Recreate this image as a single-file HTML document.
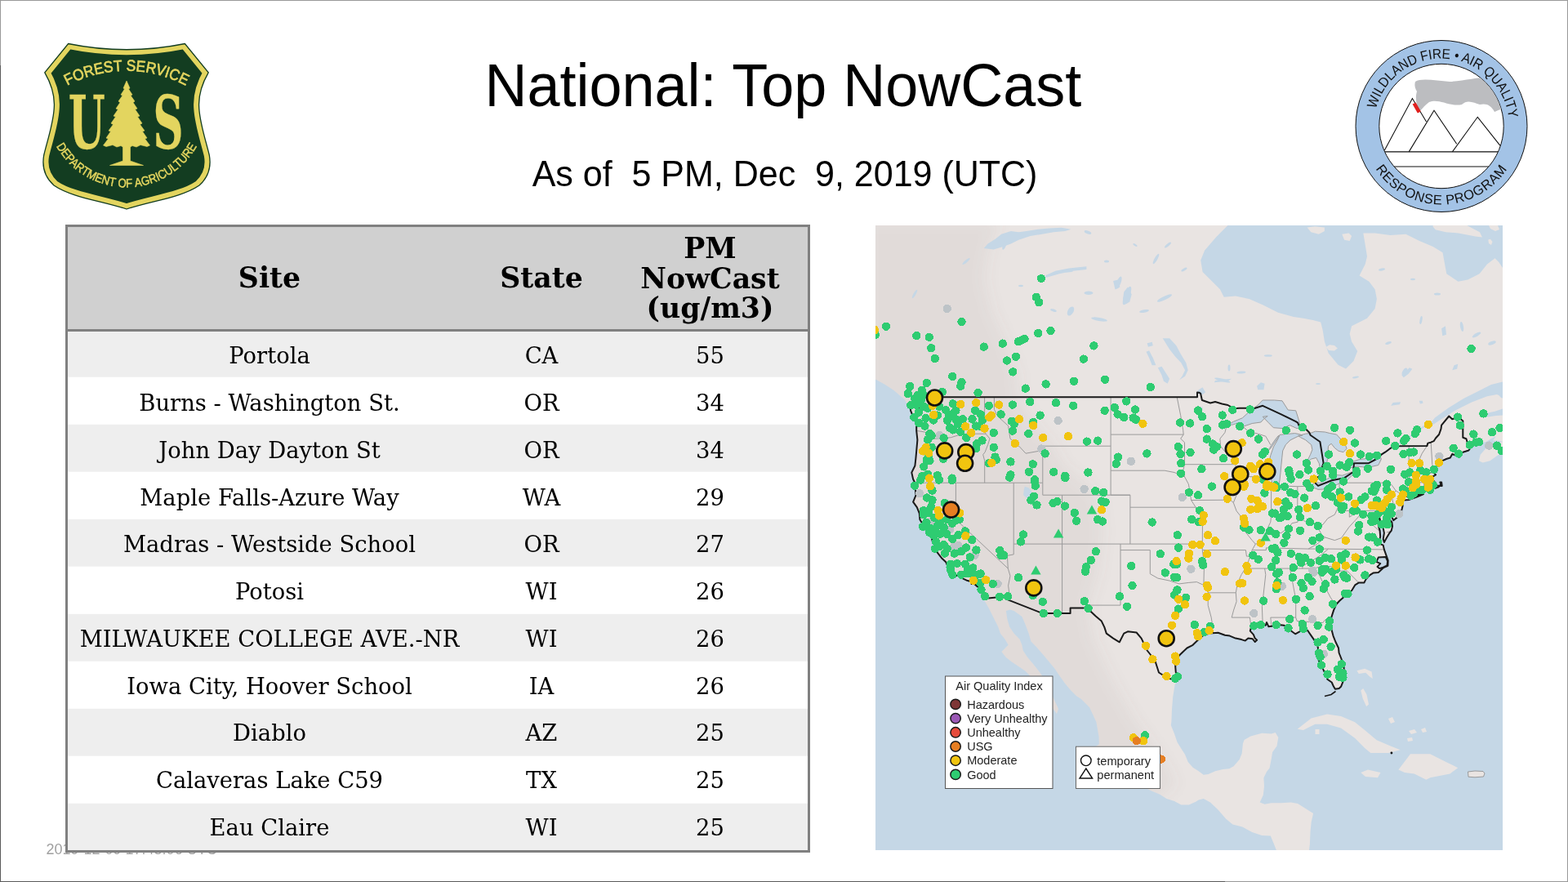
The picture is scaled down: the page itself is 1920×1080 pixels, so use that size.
<!DOCTYPE html>
<html><head><meta charset="utf-8"><title>National: Top NowCast</title>
<style>
html,body{margin:0;padding:0;background:#fff}
body{width:1920px;height:1080px;position:relative;overflow:hidden}
.abs{position:absolute;display:block}
.tbl{position:absolute;left:80px;top:275px;width:912px;height:769px}
</style></head><body>
<div class="abs" style="left:0;top:0;width:1918px;height:1078px;border:1px solid #999999"></div>
<div class="abs" style="left:0;top:80px;width:1px;height:1000px;background:#5a5a5a"></div>
<div class="abs" style="left:0;top:1079px;width:1500px;height:1px;background:#5a5a5a"></div>
<svg class="abs" style="left:40px;top:40px" width="230" height="230" viewBox="40 40 230 230">
<defs>
<path id="shield" d="M83.6,53.5 Q155,68 226.4,53.5 L255.2,88.8 C247,103 242.5,118 243.8,133 C245,152 252,172 256.3,190 C259,205 254,218 244,227 C222,242 185,246 155,256 C125,246 88,242 66,227 C56,218 51,205 53.7,190 C58,172 65,152 66.2,133 C67.5,118 63,103 54.8,88.8 Z"/>
<clipPath id="shclip"><use href="#shield"/></clipPath>
<path id="fsarc" d="M55,123.6 A154,154 0 0 1 255,123.6"/>
<path id="daarc" d="M57,142.4 A98.7,98.7 0 0 0 253,142.4"/>
</defs>
<use href="#shield" fill="#133d21" stroke="#e3d55f" stroke-width="13" clip-path="url(#shclip)"/>
<use href="#shield" fill="none" stroke="#133d21" stroke-width="1.3"/>
<g fill="#e3d55f" stroke="#e3d55f">
<text font-family="Liberation Sans, sans-serif" font-size="19" stroke-width="0.7"><textPath href="#fsarc" startOffset="50%" text-anchor="middle" textLength="151" lengthAdjust="spacingAndGlyphs">FOREST SERVICE</textPath></text>
<text font-family="Liberation Sans, sans-serif" font-size="15" stroke-width="0.5"><textPath href="#daarc" startOffset="50%" text-anchor="middle" textLength="209" lengthAdjust="spacingAndGlyphs">DEPARTMENT OF AGRICULTURE</textPath></text>
<text x="83.7" y="181.5" font-family="DejaVu Serif, serif" font-weight="bold" font-size="90.5" stroke-width="0.3" textLength="45" lengthAdjust="spacingAndGlyphs">U</text>
<text x="187.4" y="181.5" font-family="DejaVu Serif, serif" font-weight="bold" font-size="90.5" stroke-width="0.3" textLength="37" lengthAdjust="spacingAndGlyphs">S</text>
<path stroke-width="0.6" stroke-linejoin="round" d="M155,99 L159,108 L157.5,109 L162,116 L160,117 L165,124 L163,125.5 L168,133 L165.5,134 L171,142 L168.5,143 L174,151 L171.5,152.5 L177,160 L174.5,161 L180,169 L177.5,170 L183.5,178 L180,179.5 L172,177.5 L167,180 L162,178.5 L159.5,180 L159.5,197 L175.5,202.5 L134.5,202.5 L150.5,197 L150.5,180 L148,178.5 L143,180 L138,177.5 L130,179.5 L126.5,178 L132.5,170 L130,169 L135.5,161 L133,160 L138.5,152.5 L136,151 L141.5,143 L139,142 L144.5,134 L142,133 L147,125.5 L145,124 L150,117 L148,116 L152.5,109 L151,108 Z"/>
</g>
</svg>

<svg class="abs" style="left:1650px;top:40px" width="230" height="230" viewBox="1650 40 230 230">
<defs>
<path id="wtop" d="M1682,154.5 A83,83 0 0 1 1848,154.5"/>
<path id="wbot" d="M1669,154.5 A96,96 0 0 0 1861,154.5"/>
<clipPath id="inner"><circle cx="1765" cy="154.5" r="76"/></clipPath>
</defs>
<circle cx="1765" cy="154.5" r="105" fill="#a3c3e6" stroke="#111" stroke-width="1"/>
<circle cx="1765" cy="154.5" r="76.2" fill="#fff" stroke="#111" stroke-width="1"/>
<g clip-path="url(#inner)">
<path d="M1733,100 C1740,95 1760,99 1775,100 C1795,99 1815,93 1830,95 C1836,105 1838,118 1841,134 C1836,133 1834,136 1830,137 C1826,129 1820,126 1812,128 C1805,126 1797,121 1790,128 C1775,131 1762,120 1750,125 C1744,129 1740,136 1736,138 C1736,130 1732,122 1735,112 C1732,107 1732,103 1733,100 Z" fill="#bcbdc0"/>
<g fill="#fff" stroke="#111" stroke-width="1.1" stroke-linejoin="miter">
<path d="M1694.3,185.9 L1729.4,120.5 L1746.5,149"/>
<path d="M1725.2,185.9 L1756,135.2 L1783.7,176.3"/>
<path d="M1778.4,185.9 L1809.3,143.3 L1837,178.4"/>
</g>
<line x1="1690" y1="185.9" x2="1840" y2="185.9" stroke="#111" stroke-width="1.1"/>
<line x1="1700" y1="204" x2="1830" y2="204" stroke="#111" stroke-width="1.1"/>
<path d="M1729.6,127.6 L1733.6,125.4 L1739.8,136.4 L1735.8,138.6 Z" fill="#e0201e"/>
</g>
<g fill="#111" font-family="Liberation Sans, sans-serif">
<text font-size="17"><textPath href="#wtop" startOffset="52.2%" text-anchor="middle" textLength="229" lengthAdjust="spacingAndGlyphs">WILDLAND FIRE • AIR QUALITY</textPath></text>
<text font-size="16.5" letter-spacing="0.6"><textPath href="#wbot" startOffset="50%" text-anchor="middle">RESPONSE PROGRAM</textPath></text>
</g>
</svg>

<svg class="abs" style="left:0;top:0" width="1920" height="270" viewBox="0 0 1920 270">
<text x="593.4" y="129.8" font-family="Liberation Sans, Arial, sans-serif" font-size="72" fill="#000" transform="translate(0 129.8) scale(1 1.042) translate(0 -129.8)">National: Top NowCast</text>
<text x="651.7" y="227.8" font-family="Liberation Sans, Arial, sans-serif" font-size="43" fill="#000" xml:space="preserve" transform="translate(0 227.8) scale(1 1.044) translate(0 -227.8)">As of  5 PM, Dec  9, 2019 (UTC)</text>
</svg>
<svg class="abs" style="left:0;top:1000px" width="400" height="80" viewBox="0 1000 400 80">
<text x="56.5" y="1046" font-family="Liberation Sans, Arial, sans-serif" font-size="18" fill="#a0a0a0">2019-12-09 17:45:06 UTC</text>
</svg>
<div class="tbl">
<svg class="abs" style="left:0;top:0" width="912" height="769" viewBox="80 275 912 769">
<rect x="83" y="278" width="906" height="125" fill="#d0d0d0"/>
<rect x="83" y="406.00" width="906" height="55.80" fill="#eeeeee"/>
<rect x="83" y="461.80" width="906" height="58.00" fill="#ffffff"/>
<rect x="83" y="519.80" width="906" height="58.00" fill="#eeeeee"/>
<rect x="83" y="577.80" width="906" height="58.00" fill="#ffffff"/>
<rect x="83" y="635.80" width="906" height="58.00" fill="#eeeeee"/>
<rect x="83" y="693.80" width="906" height="58.00" fill="#ffffff"/>
<rect x="83" y="751.80" width="906" height="58.00" fill="#eeeeee"/>
<rect x="83" y="809.80" width="906" height="58.00" fill="#ffffff"/>
<rect x="83" y="867.80" width="906" height="58.00" fill="#eeeeee"/>
<rect x="83" y="925.80" width="906" height="58.00" fill="#ffffff"/>
<rect x="83" y="983.80" width="906" height="57.20" fill="#eeeeee"/>
<rect x="81.5" y="276.5" width="909" height="766" fill="none" stroke="#808080" stroke-width="3"/>
<rect x="83" y="403" width="906" height="3" fill="#808080"/>
<g font-family="DejaVu Serif, serif" font-weight="bold" font-size="34.7" text-anchor="middle" fill="#000">
<text x="330" y="352.3">Site</text><text x="663" y="352.3">State</text>
<text x="869.5" y="316">PM</text><text x="869.5" y="352.6">NowCast</text><text x="869.5" y="388.8">(ug/m3)</text>
</g>
<g font-family="DejaVu Serif, serif" font-size="27.4" text-anchor="middle" fill="#000">
<text x="330" y="445.20">Portola</text><text x="663" y="445.20">CA</text><text x="869.5" y="445.20">55</text>
<text x="330" y="502.98">Burns - Washington St.</text><text x="663" y="502.98">OR</text><text x="869.5" y="502.98">34</text>
<text x="330" y="560.76">John Day Dayton St</text><text x="663" y="560.76">OR</text><text x="869.5" y="560.76">34</text>
<text x="330" y="618.54">Maple Falls-Azure Way</text><text x="663" y="618.54">WA</text><text x="869.5" y="618.54">29</text>
<text x="330" y="676.32">Madras - Westside School</text><text x="663" y="676.32">OR</text><text x="869.5" y="676.32">27</text>
<text x="330" y="734.10">Potosi</text><text x="663" y="734.10">WI</text><text x="869.5" y="734.10">26</text>
<text x="330" y="791.88">MILWAUKEE COLLEGE AVE.-NR</text><text x="663" y="791.88">WI</text><text x="869.5" y="791.88">26</text>
<text x="330" y="849.66">Iowa City, Hoover School</text><text x="663" y="849.66">IA</text><text x="869.5" y="849.66">26</text>
<text x="330" y="907.44">Diablo</text><text x="663" y="907.44">AZ</text><text x="869.5" y="907.44">25</text>
<text x="330" y="965.22">Calaveras Lake C59</text><text x="663" y="965.22">TX</text><text x="869.5" y="965.22">25</text>
<text x="330" y="1023.00">Eau Claire</text><text x="663" y="1023.00">WI</text><text x="869.5" y="1023.00">25</text>
</g></svg></div>
<svg class="abs" style="left:1072px;top:276px" width="768" height="765" viewBox="1072 276 768 765">
<rect x="1072" y="276" width="768" height="765" fill="#c5d7e6"/>
<path fill="#e9e4e2" d="M932.5,171.5 L1503.4,171.5 L1503.4,276.0 L1489.2,290.2 L1475.0,306.8 L1470.2,318.7 L1472.6,332.9 L1484.4,344.7 L1493.9,354.2 L1498.7,363.7 L1512.9,362.5 L1529.5,366.1 L1546.1,373.2 L1565.0,382.7 L1584.0,388.0 L1595.9,389.8 L1607.7,392.1 L1617.2,394.5 L1619.6,404.0 L1621.9,418.2 L1626.7,432.4 L1638.5,446.7 L1648.0,451.4 L1657.5,441.9 L1662.2,430.1 L1655.1,418.2 L1652.7,408.7 L1655.1,399.3 L1674.0,389.8 L1683.6,377.9 L1685.9,366.1 L1683.6,354.2 L1676.4,344.7 L1664.6,337.6 L1671.7,323.4 L1674.0,313.9 L1671.7,299.7 L1669.3,285.5 L1683.6,285.5 L1702.5,287.9 L1721.5,286.7 L1738.1,295.0 L1754.7,302.1 L1766.5,309.2 L1771.3,335.3 L1785.5,344.7 L1797.3,342.4 L1811.6,335.3 L1821.0,323.4 L1830.5,316.3 L1835.3,321.0 L1840.0,328.1 L1870.0,330.0 L1870.0,556.0 L1841.2,553.0 L1832.9,558.2 L1824.5,564.2 L1815.6,566.5 L1810.9,564.2 L1812.7,556.7 L1818.6,550.0 L1824.6,545.5 L1830.5,542.5 L1836.5,541.7 L1841.2,541.0 L1834.1,539.5 L1828.1,539.5 L1831.7,534.2 L1825.8,537.2 L1819.8,541.0 L1812.1,542.5 L1806.7,544.7 L1800.8,546.2 L1801.0,548.0 L1798.4,551.5 L1791.3,553.7 L1786.5,555.2 L1782.3,557.5 L1778.2,556.0 L1775.8,560.5 L1771.0,562.0 L1766.3,564.2 L1762.7,566.5 L1760.9,568.7 L1758.0,573.2 L1756.2,575.5 L1755.6,578.5 L1758.0,581.4 L1754.4,583.7 L1753.2,585.9 L1754.4,587.4 L1757.4,591.2 L1759.1,594.5 L1765.7,594.9 L1765.1,590.4 L1763.3,590.4 L1764.5,593.4 L1761.5,596.4 L1757.4,597.9 L1754.4,597.2 L1751.4,598.7 L1748.4,599.4 L1743.1,601.4 L1736.5,602.1 L1730.6,602.4 L1724.7,604.7 L1720.5,608.4 L1722.3,607.7 L1734.2,606.5 L1741.3,604.7 L1743.0,605.1 L1735.4,608.4 L1725.8,611.9 L1718.1,612.6 L1717.5,614.1 L1717.5,619.7 L1716.3,624.9 L1713.4,630.2 L1710.4,633.9 L1706.2,637.2 L1704.4,633.2 L1700.9,629.4 L1699.1,627.2 L1700.9,631.7 L1702.1,636.9 L1704.4,639.5 L1705.0,644.4 L1703.8,649.6 L1700.9,653.4 L1697.9,658.6 L1694.9,663.9 L1693.7,660.1 L1694.9,652.6 L1693.7,646.7 L1690.8,642.2 L1690.2,637.7 L1689.0,633.2 L1692.5,628.7 L1689.0,630.9 L1687.8,636.9 L1687.8,643.7 L1689.6,649.6 L1690.2,657.1 L1689.0,662.4 L1690.2,666.1 L1693.7,667.6 L1694.9,672.9 L1697.3,679.6 L1699.7,686.4 L1699.4,692.8 L1693.7,695.4 L1687.8,700.9 L1681.8,701.4 L1677.1,704.4 L1672.3,709.6 L1670.5,713.4 L1664.0,713.4 L1659.2,716.4 L1655.7,722.3 L1650.9,727.6 L1646.2,730.6 L1640.2,735.8 L1636.0,740.3 L1633.1,747.1 L1630.7,754.6 L1628.9,762.1 L1630.1,769.6 L1632.5,778.6 L1635.4,786.0 L1639.0,793.5 L1639.6,799.5 L1642.6,807.0 L1645.6,817.5 L1645.6,826.5 L1644.4,834.8 L1642.0,840.8 L1639.6,843.0 L1634.9,843.8 L1633.1,840.8 L1630.7,835.5 L1625.3,831.8 L1624.1,825.0 L1621.2,822.0 L1618.8,816.0 L1615.2,810.0 L1613.4,804.0 L1614.6,798.0 L1613.4,790.5 L1609.9,784.6 L1605.7,778.6 L1601.0,771.8 L1595.0,770.3 L1591.4,773.3 L1586.1,776.3 L1581.9,773.3 L1578.4,769.6 L1572.4,765.8 L1565.3,765.1 L1559.3,766.6 L1553.4,767.3 L1551.0,762.1 L1549.8,765.8 L1543.9,765.8 L1537.9,765.8 L1532.0,768.1 L1530.8,772.6 L1534.9,777.1 L1536.7,781.6 L1539.1,783.8 L1536.7,786.0 L1533.8,782.3 L1528.4,781.6 L1524.8,784.6 L1520.1,783.1 L1512.9,781.6 L1505.8,778.6 L1499.9,777.8 L1491.5,774.8 L1481.4,775.6 L1473.7,777.8 L1470.1,780.8 L1466.0,784.6 L1460.6,789.8 L1453.5,793.5 L1448.7,798.0 L1444.0,802.5 L1440.4,808.5 L1439.2,816.0 L1439.8,823.5 L1442.2,831.0 L1438.6,838.5 L1436.2,853.5 L1435.0,868.5 L1434.4,883.5 L1433.8,888.0 L1438.0,898.5 L1441.6,909.0 L1446.3,916.5 L1451.1,923.9 L1454.7,932.9 L1460.6,939.7 L1467.7,944.2 L1473.7,948.7 L1479.6,947.9 L1488.0,944.2 L1497.5,941.9 L1505.2,941.2 L1510.6,938.2 L1517.7,929.9 L1520.7,922.4 L1521.9,910.5 L1523.6,906.0 L1531.4,901.5 L1545.1,897.7 L1556.9,898.5 L1561.7,897.0 L1565.3,903.0 L1563.5,913.5 L1558.1,921.0 L1556.9,928.4 L1554.6,940.4 L1551.0,944.9 L1547.4,952.4 L1548.0,962.9 L1546.8,973.4 L1542.7,982.4 L1548.6,984.7 L1556.9,983.2 L1568.8,983.2 L1580.7,982.4 L1589.1,983.9 L1598.6,989.9 L1608.1,995.9 L1605.7,1006.4 L1604.5,1018.4 L1603.9,1033.4 L1602.1,1048.4 L1602.1,1085.8 L1551.0,1085.8 L1562.9,1040.9 L1559.3,1031.9 L1555.8,1023.6 L1545.1,1022.9 L1533.2,1019.1 L1521.3,1012.4 L1509.4,1009.4 L1501.0,1002.6 L1491.5,991.4 L1482.0,982.4 L1473.7,977.9 L1467.7,979.4 L1464.2,981.7 L1455.8,985.4 L1446.3,985.4 L1438.0,980.9 L1428.5,977.9 L1420.2,972.7 L1409.5,968.2 L1398.8,962.9 L1389.2,955.4 L1382.1,951.7 L1372.6,947.2 L1365.5,941.2 L1357.1,935.2 L1350.0,929.9 L1345.2,922.4 L1340.5,915.0 L1345.8,911.2 L1345.6,902.0 L1342.4,884.0 L1334.0,866.0 L1324.0,856.0 L1318.1,852.2 L1311.1,845.3 L1304.2,836.9 L1297.2,827.2 L1291.7,818.9 L1284.7,810.6 L1277.8,802.2 L1269.4,792.5 L1262.5,785.6 L1259.7,775.8 L1255.6,764.7 L1251.4,755.0 L1241.7,748.1 L1236.8,746.5 L1231.9,748.1 L1233.3,757.8 L1236.1,767.5 L1241.7,775.8 L1248.6,782.8 L1251.4,789.7 L1252.8,796.7 L1258.3,805.0 L1265.3,813.3 L1270.8,820.3 L1275.0,825.8 L1282.0,840.0 L1290.0,855.0 L1296.0,868.0 L1294.0,874.0 L1288.0,866.0 L1280.0,852.0 L1270.0,838.0 L1259.7,825.8 L1255.6,821.7 L1247.2,816.1 L1238.9,810.6 L1231.9,805.0 L1226.4,798.0 L1234.7,789.7 L1230.6,782.8 L1225.0,775.8 L1222.2,767.5 L1216.7,756.4 L1211.1,745.3 L1205.6,735.6 L1204.6,733.1 L1203.1,729.8 L1202.5,725.3 L1200.1,720.8 L1195.4,717.1 L1193.0,714.9 L1189.4,714.9 L1188.8,711.9 L1184.7,711.1 L1179.9,708.9 L1174.0,705.1 L1164.8,704.4 L1163.3,702.9 L1162.7,697.6 L1160.3,693.1 L1158.5,688.6 L1153.7,684.1 L1147.8,676.6 L1148.4,672.1 L1146.6,666.9 L1141.8,663.1 L1140.7,658.6 L1140.7,654.1 L1134.7,651.1 L1131.1,643.7 L1126.4,636.2 L1125.8,628.7 L1122.8,621.2 L1118.1,614.6 L1121.6,606.2 L1120.4,595.7 L1120.4,591.2 L1118.1,586.7 L1116.3,578.6 L1120.4,570.2 L1121.4,561.2 L1122.2,552.2 L1123.4,538.7 L1122.2,527.5 L1122.2,522.2 L1121.6,517.7 L1118.7,511.8 L1115.1,502.8 L1114.3,495.6 L1110.5,494.1 L1107.6,488.9 L1103.1,485.2 L1094.2,477.8 L1083.1,470.4 L1072.0,464.4 L1060.0,462.0 L1060.0,200.0Z M1754.6,276.0 L1754.6,277.5 L1757.7,281.2 L1770.2,284.3 L1785.8,285.4 L1806.7,289.5 L1815.0,290.6 L1811.9,284.3 L1800.0,278.0 L1796.3,276.0Z M1822.3,293.5 L1825.0,292.7 L1827.5,296.0 L1826.0,300.0 L1823.0,298.0Z M1823.0,276.0 L1825.0,280.0 L1831.0,283.0 L1836.0,281.0 L1834.0,276.0Z M1600.6,278.4 L1605.3,284.3 L1614.8,286.7 L1621.9,283.1 L1621.9,278.4 L1610.1,277.2Z M1643.3,286.7 L1646.1,293.8 L1652.7,295.0 L1655.1,289.0 L1651.6,285.5Z M1588.6,892.8 L1605.6,879.5 L1625.0,874.6 L1642.0,877.0 L1659.0,884.3 L1671.1,894.0 L1685.7,906.2 L1702.7,913.5 L1714.8,918.3 L1700.2,922.0 L1678.4,922.0 L1671.1,915.9 L1659.0,903.8 L1642.0,891.6 L1625.0,886.8 L1610.4,886.8 L1595.9,894.0Z M1610.5,893.0 L1615.5,893.0 L1615.5,899.0 L1610.5,899.0Z M1712.4,942.6 L1727.0,923.2 L1751.2,923.2 L1770.6,932.9 L1785.2,940.2 L1775.5,947.4 L1751.2,952.3 L1746.3,954.7 L1731.8,947.4 L1720.0,946.0Z M1666.3,946.0 L1675.0,942.6 L1690.5,946.0 L1687.0,952.3 L1672.0,951.0Z M1797.5,945.0 L1806.0,944.0 L1816.0,944.5 L1818.0,947.0 L1816.5,951.0 L1806.0,951.8 L1798.0,951.2Z M1661.4,821.3 L1671.1,818.8 L1679.6,822.5 L1680.8,831.0 L1677.2,828.5 L1672.3,823.7 L1663.8,824.9Z M1666.3,845.5 L1669.2,843.1 L1673.5,850.4 L1676.0,862.5 L1673.1,864.9 L1668.7,855.2Z M1700.0,880.0 L1705.0,878.0 L1708.0,884.0 L1703.0,886.0Z M1725.0,895.0 L1732.0,893.0 L1735.0,897.0 L1728.0,899.0Z M1740.0,893.0 L1745.0,891.0 L1747.0,896.0 L1742.0,897.0Z M1723.0,904.0 L1729.0,903.0 L1730.0,907.0 L1724.0,908.0Z"/>
<defs><clipPath id="mainclip"><path d="M932.5,171.5 L1503.4,171.5 L1503.4,276.0 L1489.2,290.2 L1475.0,306.8 L1470.2,318.7 L1472.6,332.9 L1484.4,344.7 L1493.9,354.2 L1498.7,363.7 L1512.9,362.5 L1529.5,366.1 L1546.1,373.2 L1565.0,382.7 L1584.0,388.0 L1595.9,389.8 L1607.7,392.1 L1617.2,394.5 L1619.6,404.0 L1621.9,418.2 L1626.7,432.4 L1638.5,446.7 L1648.0,451.4 L1657.5,441.9 L1662.2,430.1 L1655.1,418.2 L1652.7,408.7 L1655.1,399.3 L1674.0,389.8 L1683.6,377.9 L1685.9,366.1 L1683.6,354.2 L1676.4,344.7 L1664.6,337.6 L1671.7,323.4 L1674.0,313.9 L1671.7,299.7 L1669.3,285.5 L1683.6,285.5 L1702.5,287.9 L1721.5,286.7 L1738.1,295.0 L1754.7,302.1 L1766.5,309.2 L1771.3,335.3 L1785.5,344.7 L1797.3,342.4 L1811.6,335.3 L1821.0,323.4 L1830.5,316.3 L1835.3,321.0 L1840.0,328.1 L1870.0,330.0 L1870.0,556.0 L1841.2,553.0 L1832.9,558.2 L1824.5,564.2 L1815.6,566.5 L1810.9,564.2 L1812.7,556.7 L1818.6,550.0 L1824.6,545.5 L1830.5,542.5 L1836.5,541.7 L1841.2,541.0 L1834.1,539.5 L1828.1,539.5 L1831.7,534.2 L1825.8,537.2 L1819.8,541.0 L1812.1,542.5 L1806.7,544.7 L1800.8,546.2 L1801.0,548.0 L1798.4,551.5 L1791.3,553.7 L1786.5,555.2 L1782.3,557.5 L1778.2,556.0 L1775.8,560.5 L1771.0,562.0 L1766.3,564.2 L1762.7,566.5 L1760.9,568.7 L1758.0,573.2 L1756.2,575.5 L1755.6,578.5 L1758.0,581.4 L1754.4,583.7 L1753.2,585.9 L1754.4,587.4 L1757.4,591.2 L1759.1,594.5 L1765.7,594.9 L1765.1,590.4 L1763.3,590.4 L1764.5,593.4 L1761.5,596.4 L1757.4,597.9 L1754.4,597.2 L1751.4,598.7 L1748.4,599.4 L1743.1,601.4 L1736.5,602.1 L1730.6,602.4 L1724.7,604.7 L1720.5,608.4 L1722.3,607.7 L1734.2,606.5 L1741.3,604.7 L1743.0,605.1 L1735.4,608.4 L1725.8,611.9 L1718.1,612.6 L1717.5,614.1 L1717.5,619.7 L1716.3,624.9 L1713.4,630.2 L1710.4,633.9 L1706.2,637.2 L1704.4,633.2 L1700.9,629.4 L1699.1,627.2 L1700.9,631.7 L1702.1,636.9 L1704.4,639.5 L1705.0,644.4 L1703.8,649.6 L1700.9,653.4 L1697.9,658.6 L1694.9,663.9 L1693.7,660.1 L1694.9,652.6 L1693.7,646.7 L1690.8,642.2 L1690.2,637.7 L1689.0,633.2 L1692.5,628.7 L1689.0,630.9 L1687.8,636.9 L1687.8,643.7 L1689.6,649.6 L1690.2,657.1 L1689.0,662.4 L1690.2,666.1 L1693.7,667.6 L1694.9,672.9 L1697.3,679.6 L1699.7,686.4 L1699.4,692.8 L1693.7,695.4 L1687.8,700.9 L1681.8,701.4 L1677.1,704.4 L1672.3,709.6 L1670.5,713.4 L1664.0,713.4 L1659.2,716.4 L1655.7,722.3 L1650.9,727.6 L1646.2,730.6 L1640.2,735.8 L1636.0,740.3 L1633.1,747.1 L1630.7,754.6 L1628.9,762.1 L1630.1,769.6 L1632.5,778.6 L1635.4,786.0 L1639.0,793.5 L1639.6,799.5 L1642.6,807.0 L1645.6,817.5 L1645.6,826.5 L1644.4,834.8 L1642.0,840.8 L1639.6,843.0 L1634.9,843.8 L1633.1,840.8 L1630.7,835.5 L1625.3,831.8 L1624.1,825.0 L1621.2,822.0 L1618.8,816.0 L1615.2,810.0 L1613.4,804.0 L1614.6,798.0 L1613.4,790.5 L1609.9,784.6 L1605.7,778.6 L1601.0,771.8 L1595.0,770.3 L1591.4,773.3 L1586.1,776.3 L1581.9,773.3 L1578.4,769.6 L1572.4,765.8 L1565.3,765.1 L1559.3,766.6 L1553.4,767.3 L1551.0,762.1 L1549.8,765.8 L1543.9,765.8 L1537.9,765.8 L1532.0,768.1 L1530.8,772.6 L1534.9,777.1 L1536.7,781.6 L1539.1,783.8 L1536.7,786.0 L1533.8,782.3 L1528.4,781.6 L1524.8,784.6 L1520.1,783.1 L1512.9,781.6 L1505.8,778.6 L1499.9,777.8 L1491.5,774.8 L1481.4,775.6 L1473.7,777.8 L1470.1,780.8 L1466.0,784.6 L1460.6,789.8 L1453.5,793.5 L1448.7,798.0 L1444.0,802.5 L1440.4,808.5 L1439.2,816.0 L1439.8,823.5 L1442.2,831.0 L1438.6,838.5 L1436.2,853.5 L1435.0,868.5 L1434.4,883.5 L1433.8,888.0 L1438.0,898.5 L1441.6,909.0 L1446.3,916.5 L1451.1,923.9 L1454.7,932.9 L1460.6,939.7 L1467.7,944.2 L1473.7,948.7 L1479.6,947.9 L1488.0,944.2 L1497.5,941.9 L1505.2,941.2 L1510.6,938.2 L1517.7,929.9 L1520.7,922.4 L1521.9,910.5 L1523.6,906.0 L1531.4,901.5 L1545.1,897.7 L1556.9,898.5 L1561.7,897.0 L1565.3,903.0 L1563.5,913.5 L1558.1,921.0 L1556.9,928.4 L1554.6,940.4 L1551.0,944.9 L1547.4,952.4 L1548.0,962.9 L1546.8,973.4 L1542.7,982.4 L1548.6,984.7 L1556.9,983.2 L1568.8,983.2 L1580.7,982.4 L1589.1,983.9 L1598.6,989.9 L1608.1,995.9 L1605.7,1006.4 L1604.5,1018.4 L1603.9,1033.4 L1602.1,1048.4 L1602.1,1085.8 L1551.0,1085.8 L1562.9,1040.9 L1559.3,1031.9 L1555.8,1023.6 L1545.1,1022.9 L1533.2,1019.1 L1521.3,1012.4 L1509.4,1009.4 L1501.0,1002.6 L1491.5,991.4 L1482.0,982.4 L1473.7,977.9 L1467.7,979.4 L1464.2,981.7 L1455.8,985.4 L1446.3,985.4 L1438.0,980.9 L1428.5,977.9 L1420.2,972.7 L1409.5,968.2 L1398.8,962.9 L1389.2,955.4 L1382.1,951.7 L1372.6,947.2 L1365.5,941.2 L1357.1,935.2 L1350.0,929.9 L1345.2,922.4 L1340.5,915.0 L1345.8,911.2 L1345.6,902.0 L1342.4,884.0 L1334.0,866.0 L1324.0,856.0 L1318.1,852.2 L1311.1,845.3 L1304.2,836.9 L1297.2,827.2 L1291.7,818.9 L1284.7,810.6 L1277.8,802.2 L1269.4,792.5 L1262.5,785.6 L1259.7,775.8 L1255.6,764.7 L1251.4,755.0 L1241.7,748.1 L1236.8,746.5 L1231.9,748.1 L1233.3,757.8 L1236.1,767.5 L1241.7,775.8 L1248.6,782.8 L1251.4,789.7 L1252.8,796.7 L1258.3,805.0 L1265.3,813.3 L1270.8,820.3 L1275.0,825.8 L1282.0,840.0 L1290.0,855.0 L1296.0,868.0 L1294.0,874.0 L1288.0,866.0 L1280.0,852.0 L1270.0,838.0 L1259.7,825.8 L1255.6,821.7 L1247.2,816.1 L1238.9,810.6 L1231.9,805.0 L1226.4,798.0 L1234.7,789.7 L1230.6,782.8 L1225.0,775.8 L1222.2,767.5 L1216.7,756.4 L1211.1,745.3 L1205.6,735.6 L1204.6,733.1 L1203.1,729.8 L1202.5,725.3 L1200.1,720.8 L1195.4,717.1 L1193.0,714.9 L1189.4,714.9 L1188.8,711.9 L1184.7,711.1 L1179.9,708.9 L1174.0,705.1 L1164.8,704.4 L1163.3,702.9 L1162.7,697.6 L1160.3,693.1 L1158.5,688.6 L1153.7,684.1 L1147.8,676.6 L1148.4,672.1 L1146.6,666.9 L1141.8,663.1 L1140.7,658.6 L1140.7,654.1 L1134.7,651.1 L1131.1,643.7 L1126.4,636.2 L1125.8,628.7 L1122.8,621.2 L1118.1,614.6 L1121.6,606.2 L1120.4,595.7 L1120.4,591.2 L1118.1,586.7 L1116.3,578.6 L1120.4,570.2 L1121.4,561.2 L1122.2,552.2 L1123.4,538.7 L1122.2,527.5 L1122.2,522.2 L1121.6,517.7 L1118.7,511.8 L1115.1,502.8 L1114.3,495.6 L1110.5,494.1 L1107.6,488.9 L1103.1,485.2 L1094.2,477.8 L1083.1,470.4 L1072.0,464.4 L1060.0,462.0 L1060.0,200.0Z"/></clipPath><filter id="mblur" x="-20%" y="-20%" width="140%" height="140%"><feGaussianBlur stdDeviation="9"/></filter></defs>
<g clip-path="url(#mainclip)"><path filter="url(#mblur)" fill="#7a6a6a" fill-opacity="0.075" d="M1060.0,270.0 L1225.0,270.0 L1212.0,300.0 L1205.0,340.0 L1214.0,380.0 L1232.0,420.0 L1245.0,455.0 L1248.0,486.0 L1268.0,520.0 L1290.0,545.0 L1302.0,570.0 L1330.0,592.0 L1346.0,612.0 L1350.0,650.0 L1345.0,700.0 L1332.0,742.0 L1338.0,782.0 L1360.0,830.0 L1388.0,880.0 L1420.0,925.0 L1440.0,960.0 L1400.0,990.0 L1060.0,990.0Z"/></g>
<path fill="#c5d7e6" d="M1502.2,520.7 L1510.6,516.2 L1521.3,511.8 L1532.0,502.0 L1540.3,496.0 L1546.2,490.0 L1560.5,490.0 L1570.0,490.8 L1577.2,502.0 L1586.7,502.8 L1589.1,510.3 L1591.4,517.7 L1593.2,523.7 L1587.9,524.5 L1579.5,520.7 L1570.0,524.5 L1559.3,523.7 L1553.4,517.7 L1546.2,510.3 L1552.2,509.5 L1547.4,513.2 L1543.9,517.0 L1533.2,518.5 L1522.5,522.2 L1516.5,517.7 L1509.4,520.0Z M1560.6,593.5 L1557.8,592.6 L1555.9,583.0 L1555.9,574.1 L1554.1,564.8 L1555.9,557.4 L1557.8,551.9 L1559.5,547.0 L1563.0,541.0 L1565.5,536.0 L1567.0,532.4 L1575.0,531.5 L1585.6,530.6 L1590.2,531.5 L1595.0,533.0 L1589.3,534.3 L1580.0,538.9 L1574.4,544.4 L1570.7,551.9 L1569.8,560.2 L1568.9,569.4 L1568.0,578.7 L1567.0,588.0 L1566.1,592.6Z M1553.2,551.5 L1555.5,549.5 L1560.0,543.0 L1564.5,536.5 L1566.5,533.5 L1565.0,533.8 L1561.0,539.0 L1556.5,545.5Z M1589.7,533.5 L1598.6,531.2 L1604.5,530.5 L1610.5,528.2 L1622.4,529.0 L1628.3,530.5 L1636.6,532.0 L1642.6,538.7 L1646.2,541.7 L1649.1,549.2 L1645.0,553.7 L1639.0,552.2 L1634.3,548.5 L1630.1,543.2 L1626.5,546.2 L1625.9,553.7 L1625.9,558.2 L1624.7,567.2 L1620.6,573.2 L1617.4,576.2 L1615.2,567.2 L1611.7,560.5 L1605.7,562.0 L1599.8,566.5 L1604.5,556.7 L1606.9,550.7 L1605.7,544.7 L1598.6,538.7 L1592.6,535.7Z M1605.1,595.7 L1614.0,599.4 L1625.9,598.7 L1640.2,591.9 L1648.5,588.9 L1659.2,578.5 L1654.5,578.2 L1643.8,582.2 L1634.3,581.4 L1624.7,586.7 L1616.4,591.6 L1609.3,590.4Z M1648.5,572.5 L1653.3,566.5 L1664.0,562.7 L1675.9,561.2 L1683.0,559.7 L1689.6,558.2 L1691.4,562.0 L1687.8,569.5 L1674.7,572.5 L1661.6,571.0 L1655.7,572.5Z M1612.3,586.7 L1616.4,585.9 L1617.0,581.4 L1613.4,582.2Z M1444.0,465.3 L1447.5,460.8 L1451.1,453.3 L1446.3,444.3 L1439.2,436.8 L1432.1,427.8 L1423.7,414.3 L1432.1,414.3 L1440.4,423.3 L1445.1,432.3 L1452.3,444.3 L1454.7,453.3 L1451.1,460.8Z M1429.7,469.8 L1432.1,463.8 L1427.3,456.3 L1422.5,448.8 L1417.8,450.3 L1422.5,459.3 L1424.9,466.8Z M1415.4,447.3 L1411.8,438.3 L1407.1,429.3 L1403.5,430.8 L1407.1,438.3 L1410.7,447.3Z M1464.2,481.8 L1472.5,483.3 L1476.1,480.3 L1472.5,474.3 L1467.7,477.3Z M1540.3,477.3 L1547.4,477.3 L1548.6,469.8 L1543.9,468.3 L1539.1,472.8Z M1378.5,372.4 L1383.3,369.4 L1385.7,360.4 L1380.9,351.4 L1376.2,357.4 L1375.0,366.4Z M1365.5,354.4 L1371.4,351.4 L1369.0,342.4 L1363.1,343.9Z M1280.6,340.0 L1297.2,335.3 L1313.8,331.7 L1330.4,330.0 L1330.4,326.3 L1309.0,328.6 L1292.4,331.7 L1280.1,337.2Z M1204.7,304.0 L1216.6,305.6 L1228.4,302.1 L1237.9,298.5 L1247.4,293.8 L1261.6,289.0 L1275.9,286.7 L1290.1,284.3 L1304.3,283.1 L1311.4,280.7 L1299.6,278.8 L1285.3,279.6 L1271.1,280.7 L1256.9,283.1 L1247.4,284.3 L1237.9,283.1 L1226.1,286.7 L1219.0,292.6 L1209.5,298.5Z M1254.8,595.7 L1259.6,597.2 L1263.2,601.7 L1262.0,609.2 L1257.2,609.9 L1253.1,606.2 L1253.7,600.2Z M1635.4,813.0 L1638.4,816.8 L1636.6,820.5 L1634.3,818.3Z M1718.7,462.3 L1724.7,457.8 L1729.4,451.8 L1725.8,450.3 L1719.9,456.3 L1716.3,459.3Z M1738.9,494.5 L1742.5,493.8 L1741.9,490.8 L1737.7,490.8Z M1778.2,453.3 L1784.1,451.8 L1785.3,445.8 L1780.6,447.3Z M1724.7,547.0 L1726.4,547.7 L1725.8,558.2 L1724.4,565.7 L1724.1,558.2Z M1474.9,511.0 L1477.3,510.3 L1477.3,508.8 L1474.9,508.8Z M1464.2,502.0 L1472.5,502.0 L1472.5,498.3 L1465.4,499.0Z M1486.8,468.3 L1503.4,466.8 L1508.2,463.8 L1499.9,464.5 L1488.0,466.0Z M1405.9,424.8 L1411.8,423.3 L1410.7,418.8 L1404.7,420.3Z M1703.2,496.8 L1713.9,495.3 L1715.1,492.3 L1705.6,493.0Z M1766.3,411.3 L1771.0,409.8 L1769.9,399.3 L1765.1,402.3Z M1751.0,519.0 L1757.0,511.4 L1773.6,499.6 L1792.6,487.7 L1811.6,478.2 L1825.8,471.1 L1840.0,467.6 L1850.0,466.0 L1850.0,490.0 L1838.0,487.0 L1835.3,484.1 L1832.9,483.0 L1821.0,485.3 L1802.1,492.4 L1783.1,501.9 L1764.1,513.8 L1754.0,520.5Z M1850.0,497.0 L1840.0,500.5 L1830.5,503.8 L1818.7,506.2 L1816.0,508.5 L1822.0,510.5 L1832.0,509.0 L1840.0,508.5 L1850.0,508.5Z M1687.8,682.6 L1696.7,681.9 L1699.1,687.1 L1698.5,692.4 L1693.7,694.6 L1689.0,696.1 L1686.6,693.9 L1690.2,690.1 L1685.4,687.9Z"/>
<g fill="#c5d7e6"><ellipse cx="1380" cy="362" rx="3.5" ry="12" transform="rotate(20 1380 362)"/><ellipse cx="1370" cy="346" rx="2.5" ry="8" transform="rotate(20 1370 346)"/><ellipse cx="1333" cy="358.7" rx="5.5" ry="2.2" transform="rotate(0 1333 358.7)"/><ellipse cx="1415.5" cy="317" rx="1.8" ry="7" transform="rotate(30 1415.5 317)"/><ellipse cx="1426" cy="365" rx="10" ry="2.2" transform="rotate(-25 1426 365)"/><ellipse cx="1401" cy="381" rx="6" ry="1.8" transform="rotate(-10 1401 381)"/><ellipse cx="1311" cy="381" rx="3.5" ry="6" transform="rotate(30 1311 381)"/><ellipse cx="1346" cy="391" rx="10" ry="2" transform="rotate(10 1346 391)"/><ellipse cx="1307" cy="332" rx="7" ry="1.5" transform="rotate(0 1307 332)"/><ellipse cx="1332" cy="284.5" rx="4.5" ry="1.8" transform="rotate(20 1332 284.5)"/><ellipse cx="1496.7" cy="465.5" rx="10" ry="1.8" transform="rotate(15 1496.7 465.5)"/><ellipse cx="1520" cy="456" rx="5.5" ry="1.5" transform="rotate(-5 1520 456)"/><ellipse cx="1505" cy="450.5" rx="1.5" ry="4" transform="rotate(0 1505 450.5)"/><ellipse cx="1552.8" cy="435.5" rx="5" ry="1.3" transform="rotate(0 1552.8 435.5)"/><ellipse cx="1430" cy="300" rx="5" ry="1.5" transform="rotate(-40 1430 300)"/><ellipse cx="1450" cy="330" rx="4" ry="1.5" transform="rotate(-30 1450 330)"/><ellipse cx="1355" cy="320" rx="3" ry="1.5" transform="rotate(0 1355 320)"/><ellipse cx="1390" cy="300" rx="3" ry="1.2" transform="rotate(30 1390 300)"/><ellipse cx="1700" cy="420" rx="4" ry="1.5" transform="rotate(-20 1700 420)"/><ellipse cx="1740" cy="392" rx="1.5" ry="5" transform="rotate(10 1740 392)"/><ellipse cx="1760" cy="360" rx="4" ry="1.5" transform="rotate(0 1760 360)"/><ellipse cx="1790" cy="400" rx="2" ry="6" transform="rotate(-10 1790 400)"/><ellipse cx="1808" cy="410" rx="6" ry="2" transform="rotate(-30 1808 410)"/><ellipse cx="1827" cy="420" rx="5" ry="2" transform="rotate(-20 1827 420)"/><ellipse cx="1692" cy="330" rx="4" ry="1.5" transform="rotate(-10 1692 330)"/><ellipse cx="1730" cy="342" rx="3" ry="1.2" transform="rotate(0 1730 342)"/><ellipse cx="1614" cy="470" rx="3" ry="1" transform="rotate(0 1614 470)"/><ellipse cx="1660" cy="462" rx="4" ry="1.2" transform="rotate(-10 1660 462)"/><ellipse cx="1720" cy="455" rx="2.5" ry="5" transform="rotate(30 1720 455)"/><ellipse cx="1290" cy="380" rx="4" ry="1.5" transform="rotate(20 1290 380)"/><ellipse cx="1250" cy="350" rx="3" ry="1.2" transform="rotate(0 1250 350)"/><ellipse cx="1183" cy="320" rx="6" ry="1.5" transform="rotate(-40 1183 320)"/><ellipse cx="1120" cy="360" rx="1.5" ry="6" transform="rotate(30 1120 360)"/><ellipse cx="1230" cy="300" rx="2" ry="6" transform="rotate(20 1230 300)"/></g>
<path fill="#e9e4e2" d="M1623.5,425.0 L1628.0,422.2 L1634.0,423.0 L1637.8,426.5 L1634.0,429.5 L1627.0,429.0Z"/>
<path fill="none" stroke="#c5d7e6" stroke-width="2.2" d="M1689.6,558.2 L1698.5,552.2 L1705.6,546.2 L1713.9,542.5 L1722.3,538.7 L1729.4,532.0 L1736.5,526.7 L1743.7,522.2 L1750.8,518.9"/>
<path fill="none" stroke="#9a9a9a" stroke-width="1" stroke-linejoin="round" d="M1122.8,527.5 L1132.3,529.0 L1137.1,532.7 L1137.7,536.5 L1146.6,537.2 L1156.1,536.5 L1164.4,535.7 L1175.2,532.4 L1182.3,532.0 L1182.5,531.2 L1207.0,531.2 M1205.6,486.3 L1205.6,524.8 L1207.0,531.2 M1207.0,531.2 L1212.0,537.2 L1209.6,544.7 L1206.1,553.7 L1203.7,556.7 L1205.7,564.2 L1205.7,591.2 M1120.4,591.2 L1276.8,591.2 M1170.4,591.2 L1170.4,636.2 L1234.3,696.1 M1234.3,696.1 L1237.0,705.1 L1234.6,717.1 L1235.8,726.1 L1233.2,730.3 M1241.2,666.1 L1241.2,678.9 L1233.4,680.4 L1234.3,696.1 M1241.2,591.2 L1241.2,666.1 M1241.2,666.1 L1472.3,666.1 M1300.6,666.1 L1300.6,751.1 M1300.6,606.2 L1300.6,666.1 M1276.8,606.2 L1383.9,606.2 M1276.8,591.2 L1276.8,606.2 M1276.8,553.7 L1276.8,591.2 M1217.4,486.3 L1217.4,501.3 L1221.5,509.5 L1234.6,521.5 L1237.0,537.2 L1247.7,546.2 L1256.0,555.2 L1272.7,552.2 L1276.8,553.7 L1276.8,546.2 M1276.8,546.2 L1360.1,546.2 M1360.1,486.3 L1360.1,606.2 M1383.9,606.2 L1383.9,666.1 M1360.1,606.2 L1383.9,606.2 M1383.9,621.2 L1464.2,621.2 M1372.0,666.1 L1372.0,741.1 L1329.8,741.1 M1372.0,673.6 L1408.3,673.6 L1408.3,702.7 L1417.8,708.1 L1432.1,711.1 L1444.0,714.9 L1455.8,713.4 L1465.4,712.6 L1473.7,716.4 L1479.2,717.8 M1360.1,532.1 L1449.2,532.1 M1360.1,576.2 L1426.1,576.2 L1438.0,578.5 L1450.5,583.7 M1441.2,486.3 L1445.7,508.8 L1448.7,526.7 L1449.2,532.1 L1445.7,537.2 L1450.5,541.7 L1450.5,568.7 M1450.5,568.7 L1512.7,568.7 M1450.5,568.7 L1448.7,576.2 L1450.5,583.7 L1455.3,592.7 L1457.0,601.7 L1458.6,612.5 L1464.2,621.2 M1458.6,612.5 L1506.6,612.2 L1510.3,615.5 M1464.2,621.2 L1468.9,627.2 L1472.5,634.7 L1472.3,666.1 L1472.3,673.6 M1472.3,673.6 L1525.4,673.6 L1526.4,681.1 L1530.8,681.1 M1472.3,673.6 L1474.5,690.4 L1473.9,716.5 M1479.2,717.8 L1479.2,725.8 M1479.2,725.8 L1513.3,725.8 M1479.2,725.8 L1479.2,741.2 L1483.2,756.1 L1484.4,763.6 L1481.4,775.6 M1513.3,725.8 L1514.1,736.6 L1510.6,747.1 L1508.2,756.1 L1530.4,756.1 L1532.0,768.1 M1510.3,615.5 L1514.1,625.7 L1524.8,639.2 L1524.8,651.1 L1533.2,661.6 L1537.3,666.1 L1533.2,673.6 L1530.8,681.1 L1526.6,693.1 L1520.1,703.6 L1515.3,714.1 L1513.3,725.8 M1502.2,520.7 L1499.9,529.7 L1493.9,537.2 L1494.5,546.2 L1499.9,553.0 L1509.4,561.2 L1512.7,568.7 M1512.7,568.7 L1514.7,580.0 L1519.5,583.7 L1524.8,594.2 L1520.1,598.7 L1514.1,606.2 L1510.3,615.5 M1519.6,583.7 L1553.4,583.7 M1522.5,522.7 L1528.4,528.2 L1540.3,531.2 L1549.8,534.2 L1555.8,544.7 M1556.6,594.8 L1556.6,631.7 L1555.8,639.2 L1552.2,646.7 L1550.4,654.1 M1588.8,595.7 L1588.8,634.7 M1562.9,594.8 L1588.8,595.7 L1605.1,595.2 M1537.3,666.1 L1545.1,664.6 L1550.4,654.1 L1555.8,652.6 L1562.9,652.6 L1568.8,652.6 L1574.8,648.2 L1577.8,647.1 L1581.9,640.7 L1589.1,639.2 L1588.8,634.7 L1592.6,634.7 L1602.1,641.4 L1610.5,640.7 L1615.2,644.4 M1615.2,644.4 L1620.0,642.2 L1625.9,634.7 L1634.3,630.2 L1638.4,621.2 L1640.0,611.6 M1615.2,644.4 L1615.2,648.6 L1618.8,655.6 L1622.7,658.0 M1533.2,673.6 L1550.4,673.6 L1550.4,670.9 L1602.1,672.1 M1602.1,672.1 L1612.9,666.1 L1622.7,658.0 M1602.1,672.1 L1626.5,672.1 M1626.5,672.1 L1617.6,679.6 L1604.5,687.9 L1595.0,693.1 L1594.8,696.3 M1523.6,696.1 L1609.3,696.1 M1548.6,696.1 L1549.8,703.6 L1545.4,742.6 L1546.2,765.1 M1579.5,696.1 L1586.7,733.6 L1586.7,756.1 M1555.8,756.1 L1586.7,756.1 M1555.8,756.1 L1556.9,766.6 M1586.7,756.1 L1588.3,760.6 L1620.0,762.5 L1622.4,759.1 L1628.9,760.6 M1609.3,696.1 L1615.2,703.6 L1622.4,718.6 L1629.5,732.1 L1635.4,740.3 M1609.3,696.1 L1618.8,693.1 L1633.7,693.9 L1635.4,696.1 L1636.6,699.1 L1649.7,699.1 L1663.4,713.2 M1626.5,672.1 L1694.9,672.9 M1622.7,658.0 L1634.3,661.6 L1642.6,658.6 L1652.1,645.2 L1660.4,636.2 L1665.8,630.2 L1672.9,631.4 M1672.9,631.4 L1666.4,627.2 L1658.0,629.4 L1652.3,633.2 L1652.3,625.4 M1640.0,625.4 L1696.2,625.4 M1640.0,625.4 L1640.0,611.6 M1640.0,611.6 L1640.0,591.5 M1649.0,587.1 L1649.0,591.2 L1701.5,591.2 L1704.4,594.2 L1709.2,600.9 M1709.2,600.9 L1717.5,606.2 L1717.5,609.9 M1709.2,600.9 L1704.4,607.7 L1705.6,615.2 L1708.6,618.2 L1704.4,621.9 L1700.3,624.2 L1699.1,627.2 M1696.2,625.4 L1696.2,644.4 L1705.0,644.4 M1697.9,651.9 L1702.8,650.7 M1672.9,631.4 L1677.1,634.7 L1681.2,638.4 L1681.8,643.7 L1690.2,651.1 M1725.2,546.2 L1725.2,567.2 L1726.4,580.0 M1726.4,580.0 L1723.5,590.4 L1723.5,601.7 L1721.6,606.2 M1747.3,546.1 L1741.3,555.2 L1736.5,565.7 L1735.8,580.3 M1726.4,580.0 L1749.6,580.3 L1755.6,578.2 M1723.5,590.4 L1743.7,590.9 L1748.7,590.9 L1752.0,598.7 M1743.7,590.9 L1743.7,601.4 M1752.2,541.7 L1753.8,568.7 L1756.8,575.2 M1502.2,520.7 L1510.6,516.2 L1521.3,511.8 L1532.0,502.0 L1540.3,496.0 L1546.2,490.0 L1560.5,490.0 L1570.0,490.8 L1577.2,502.0 L1586.7,502.8 L1589.1,510.3 L1591.4,517.7 L1593.2,523.7 L1587.9,524.5 L1579.5,520.7 L1570.0,524.5 L1559.3,523.7 L1553.4,517.7 L1546.2,510.3 L1552.2,509.5 L1547.4,513.2 L1543.9,517.0 L1533.2,518.5 L1522.5,522.2 L1516.5,517.7 L1509.4,520.0Z M1560.6,593.5 L1557.8,592.6 L1555.9,583.0 L1555.9,574.1 L1554.1,564.8 L1555.9,557.4 L1557.8,551.9 L1559.5,547.0 L1563.0,541.0 L1565.5,536.0 L1567.0,532.4 L1575.0,531.5 L1585.6,530.6 L1590.2,531.5 L1595.0,533.0 L1589.3,534.3 L1580.0,538.9 L1574.4,544.4 L1570.7,551.9 L1569.8,560.2 L1568.9,569.4 L1568.0,578.7 L1567.0,588.0 L1566.1,592.6Z M1553.2,551.5 L1555.5,549.5 L1560.0,543.0 L1564.5,536.5 L1566.5,533.5 L1565.0,533.8 L1561.0,539.0 L1556.5,545.5Z M1589.7,533.5 L1598.6,531.2 L1604.5,530.5 L1610.5,528.2 L1622.4,529.0 L1628.3,530.5 L1636.6,532.0 L1642.6,538.7 L1646.2,541.7 L1649.1,549.2 L1645.0,553.7 L1639.0,552.2 L1634.3,548.5 L1630.1,543.2 L1626.5,546.2 L1625.9,553.7 L1625.9,558.2 L1624.7,567.2 L1620.6,573.2 L1617.4,576.2 L1615.2,567.2 L1611.7,560.5 L1605.7,562.0 L1599.8,566.5 L1604.5,556.7 L1606.9,550.7 L1605.7,544.7 L1598.6,538.7 L1592.6,535.7Z M1605.1,595.7 L1614.0,599.4 L1625.9,598.7 L1640.2,591.9 L1648.5,588.9 L1659.2,578.5 L1654.5,578.2 L1643.8,582.2 L1634.3,581.4 L1624.7,586.7 L1616.4,591.6 L1609.3,590.4Z M1648.5,572.5 L1653.3,566.5 L1664.0,562.7 L1675.9,561.2 L1683.0,559.7 L1689.6,558.2 L1691.4,562.0 L1687.8,569.5 L1674.7,572.5 L1661.6,571.0 L1655.7,572.5Z"/>
<path fill="none" stroke="#888" stroke-width="0.8" d="M1797.5,945.0 L1806.0,944.0 L1816.0,944.5 L1818.0,947.0 L1816.5,951.0 L1806.0,951.8 L1798.0,951.2Z"/>
<path fill="none" stroke="#1a1a1a" stroke-width="2" stroke-linejoin="round" d="M1801.0,548.0 L1798.4,551.5 L1791.3,553.7 L1786.5,555.2 L1782.3,557.5 L1778.2,556.0 L1775.8,560.5 L1771.0,562.0 L1766.3,564.2 L1762.7,566.5 L1760.9,568.7 L1758.0,573.2 L1756.2,575.5 L1755.6,578.5 L1758.0,581.4 L1754.4,583.7 L1753.2,585.9 L1754.4,587.4 L1757.4,591.2 L1759.1,594.5 L1765.7,594.9 L1765.1,590.4 L1763.3,590.4 L1764.5,593.4 L1761.5,596.4 L1757.4,597.9 L1754.4,597.2 L1751.4,598.7 L1748.4,599.4 L1743.1,601.4 L1736.5,602.1 L1730.6,602.4 L1724.7,604.7 L1720.5,608.4 L1722.3,607.7 L1734.2,606.5 L1741.3,604.7 L1743.0,605.1 L1735.4,608.4 L1725.8,611.9 L1718.1,612.6 L1717.5,614.1 L1717.5,619.7 L1716.3,624.9 L1713.4,630.2 L1710.4,633.9 L1706.2,637.2 L1704.4,633.2 L1700.9,629.4 L1699.1,627.2 L1700.9,631.7 L1702.1,636.9 L1704.4,639.5 L1705.0,644.4 L1703.8,649.6 L1700.9,653.4 L1697.9,658.6 L1694.9,663.9 L1693.7,660.1 L1694.9,652.6 L1693.7,646.7 L1690.8,642.2 L1690.2,637.7 L1689.0,633.2 L1692.5,628.7 L1689.0,630.9 L1687.8,636.9 L1687.8,643.7 L1689.6,649.6 L1690.2,657.1 L1689.0,662.4 L1690.2,666.1 L1693.7,667.6 L1694.9,672.9 L1697.3,679.6 L1699.7,686.4 L1699.4,692.8 L1693.7,695.4 L1687.8,700.9 L1681.8,701.4 L1677.1,704.4 L1672.3,709.6 L1670.5,713.4 L1664.0,713.4 L1659.2,716.4 L1655.7,722.3 L1650.9,727.6 L1646.2,730.6 L1640.2,735.8 L1636.0,740.3 L1633.1,747.1 L1630.7,754.6 L1628.9,762.1 L1630.1,769.6 L1632.5,778.6 L1635.4,786.0 L1639.0,793.5 L1639.6,799.5 L1642.6,807.0 L1645.6,817.5 L1645.6,826.5 L1644.4,834.8 L1642.0,840.8 L1639.6,843.0 L1634.9,843.8 L1633.1,840.8 L1630.7,835.5 L1625.3,831.8 L1624.1,825.0 L1621.2,822.0 L1618.8,816.0 L1615.2,810.0 L1613.4,804.0 L1614.6,798.0 L1613.4,790.5 L1609.9,784.6 L1605.7,778.6 L1601.0,771.8 L1595.0,770.3 L1591.4,773.3 L1586.1,776.3 L1581.9,773.3 L1578.4,769.6 L1572.4,765.8 L1565.3,765.1 L1559.3,766.6 L1553.4,767.3 L1551.0,762.1 L1549.8,765.8 L1543.9,765.8 L1537.9,765.8 L1532.0,768.1 L1530.8,772.6 L1534.9,777.1 L1536.7,781.6 L1539.1,783.8 L1536.7,786.0 L1533.8,782.3 L1528.4,781.6 L1524.8,784.6 L1520.1,783.1 L1512.9,781.6 L1505.8,778.6 L1499.9,777.8 L1491.5,774.8 L1481.4,775.6 L1473.7,777.8 L1470.1,780.8 L1466.0,784.6 L1460.6,789.8 L1453.5,793.5 L1448.7,798.0 L1444.0,802.5 L1440.4,808.5 L1439.2,816.0 L1439.8,823.5 L1442.2,831.0 M1204.6,733.1 L1203.1,729.8 L1202.5,725.3 L1200.1,720.8 L1195.4,717.1 L1193.0,714.9 L1189.4,714.9 L1188.8,711.9 L1184.7,711.1 L1179.9,708.9 L1174.0,705.1 L1164.8,704.4 L1163.3,702.9 L1162.7,697.6 L1160.3,693.1 L1158.5,688.6 L1153.7,684.1 L1147.8,676.6 L1148.4,672.1 L1146.6,666.9 L1141.8,663.1 L1140.7,658.6 L1140.7,654.1 L1134.7,651.1 L1131.1,643.7 L1126.4,636.2 L1125.8,628.7 L1122.8,621.2 L1118.1,614.6 L1121.6,606.2 L1120.4,595.7 L1120.4,591.2 L1118.1,586.7 L1116.3,578.6 L1120.4,570.2 L1121.4,561.2 L1122.2,552.2 L1123.4,538.7 L1122.2,527.5 L1122.2,522.2 L1121.6,517.7 L1118.7,511.8 L1115.1,502.8 L1114.3,495.6 L1120.4,498.3 L1128.8,499.0 L1137.7,495.3 L1137.7,486.3 L1134.1,486.3 M1134.1,486.3 L1466.0,486.3 L1466.0,480.6 L1468.3,480.7 L1470.1,481.8 L1471.9,490.0 L1482.0,493.5 L1488.0,492.0 L1496.3,494.5 L1503.4,496.0 L1510.6,500.2 L1517.7,499.8 L1527.2,499.8 L1532.2,501.3 L1546.2,496.8 L1568.8,507.3 L1586.7,516.2 L1589.1,517.7 L1592.0,524.5 L1597.4,523.7 L1603.3,529.7 L1604.5,532.7 L1616.4,541.0 L1620.6,567.2 L1617.4,576.2 L1616.4,582.2 L1611.7,585.9 L1609.3,590.4 L1614.0,594.9 L1630.7,588.2 L1646.2,585.2 L1656.9,578.0 L1657.5,572.5 L1658.0,567.2 L1675.9,567.2 L1688.4,560.5 L1691.4,556.7 L1696.1,553.7 L1702.1,549.2 L1708.6,546.2 L1747.3,546.1 L1748.4,542.6 L1752.0,541.7 L1755.6,540.2 L1758.0,536.5 L1762.1,532.0 L1764.5,525.2 L1765.1,520.7 L1774.3,509.5 L1778.2,513.2 L1785.3,511.0 L1791.3,515.2 L1791.3,535.7 L1795.4,537.2 L1797.2,543.2 L1800.8,547.0 M1204.6,733.1 L1233.2,730.3 L1232.2,733.6 L1276.6,751.1 L1310.6,751.1 L1310.6,744.4 L1330.6,744.4 L1332.2,745.6 L1341.7,754.6 L1348.8,760.6 L1352.4,768.1 L1354.8,775.6 L1363.1,781.6 L1370.8,786.3 L1376.2,775.6 L1380.9,773.3 L1391.6,774.5 L1397.6,781.6 L1404.7,796.5 L1414.2,808.5 L1419.0,823.5 L1429.7,830.3 L1438.0,832.5 L1442.2,831.6 M1687.8,682.6 L1696.7,681.9 L1699.1,687.1 L1698.5,692.4 L1693.7,694.6 L1689.0,696.1 L1686.6,693.9 L1690.2,690.1 L1685.4,687.9Z"/>
<path fill="none" stroke="#1a1a1a" stroke-width="1.6" d="M1635.5,846.5 L1630,850.5 L1622,852.5"/><circle cx="1703.9" cy="922" r="1.4" fill="#111"/>
<g fill="#bdc3c7" shape-rendering="crispEdges"><circle cx="1159.7" cy="377.9" r="5.2"/><circle cx="1150.5" cy="533.0" r="5.2"/><circle cx="1295.6" cy="515.1" r="5.2"/><circle cx="1275.4" cy="549.5" r="5.2"/><circle cx="1126.1" cy="604.1" r="5.2"/><circle cx="1162.8" cy="648.6" r="5.2"/><circle cx="1168.7" cy="669.3" r="5.2"/><circle cx="1173.5" cy="668.1" r="5.2"/><circle cx="1141.5" cy="637.3" r="5.2"/><circle cx="1193.6" cy="680.0" r="5.2"/><circle cx="1221.6" cy="714.9" r="5.2"/><circle cx="1327.6" cy="598.8" r="5.2"/><circle cx="1384.9" cy="564.9" r="5.2"/><circle cx="1447.7" cy="609.0" r="5.2"/><circle cx="1458.4" cy="696.7" r="5.2"/><circle cx="1535.4" cy="751.0" r="5.2"/><circle cx="1569.8" cy="717.8" r="5.2"/><circle cx="1607.1" cy="758.1" r="5.2"/><circle cx="1608.3" cy="701.2" r="5.2"/><circle cx="1620.7" cy="800.7" r="5.2"/><circle cx="1607.4" cy="698.5" r="5.2"/><circle cx="1762.4" cy="558.8" r="5.2"/><circle cx="1713.2" cy="629.2" r="5.2"/><circle cx="1823.3" cy="545.6" r="5.2"/></g>
<g fill="#2ecc71" shape-rendering="crispEdges"><circle cx="1177.5" cy="393.8" r="5.2"/><circle cx="1085.0" cy="399.7" r="5.2"/><circle cx="1072.0" cy="410.0" r="5.2"/><circle cx="1122.3" cy="411.1" r="5.2"/><circle cx="1137.7" cy="412.8" r="5.2"/><circle cx="1140.3" cy="426.3" r="5.2"/><circle cx="1144.8" cy="439.1" r="5.2"/><circle cx="1204.7" cy="424.6" r="5.2"/><circle cx="1227.7" cy="420.6" r="5.2"/><circle cx="1247.0" cy="418.2" r="5.2"/><circle cx="1254.5" cy="414.7" r="5.2"/><circle cx="1250.0" cy="417.0" r="5.2"/><circle cx="1271.1" cy="408.0" r="5.2"/><circle cx="1286.5" cy="405.2" r="5.2"/><circle cx="1275.0" cy="341.0" r="5.2"/><circle cx="1268.7" cy="363.7" r="5.2"/><circle cx="1272.3" cy="370.3" r="5.2"/><circle cx="1233.2" cy="441.5" r="5.2"/><circle cx="1243.9" cy="436.7" r="5.2"/><circle cx="1240.3" cy="455.4" r="5.2"/><circle cx="1326.8" cy="439.6" r="5.2"/><circle cx="1166.3" cy="460.9" r="5.2"/><circle cx="1177.5" cy="468.0" r="5.2"/><circle cx="1176.3" cy="472.7" r="5.2"/><circle cx="1255.7" cy="475.6" r="5.2"/><circle cx="1280.6" cy="470.4" r="5.2"/><circle cx="1315.0" cy="466.8" r="5.2"/><circle cx="1197.6" cy="481.0" r="5.2"/><circle cx="1114.1" cy="473.0" r="5.2"/><circle cx="1111.7" cy="481.9" r="5.2"/><circle cx="1134.8" cy="468.9" r="5.2"/><circle cx="1128.9" cy="477.8" r="5.2"/><circle cx="1124.1" cy="483.7" r="5.2"/><circle cx="1127.7" cy="489.6" r="5.2"/><circle cx="1131.3" cy="497.9" r="5.2"/><circle cx="1115.3" cy="496.1" r="5.2"/><circle cx="1121.8" cy="495.6" r="5.2"/><circle cx="1150.2" cy="497.9" r="5.2"/><circle cx="1153.8" cy="480.1" r="5.2"/><circle cx="1119.4" cy="511.0" r="5.2"/><circle cx="1125.3" cy="518.1" r="5.2"/><circle cx="1133.6" cy="512.1" r="5.2"/><circle cx="1147.9" cy="508.6" r="5.2"/><circle cx="1143.1" cy="514.5" r="5.2"/><circle cx="1132.4" cy="521.6" r="5.2"/><circle cx="1138.4" cy="531.1" r="5.2"/><circle cx="1136.0" cy="538.2" r="5.2"/><circle cx="1140.7" cy="533.5" r="5.2"/><circle cx="1155.6" cy="536.4" r="5.2"/><circle cx="1166.8" cy="494.4" r="5.2"/><circle cx="1165.6" cy="507.4" r="5.2"/><circle cx="1170.4" cy="502.7" r="5.2"/><circle cx="1162.1" cy="509.8" r="5.2"/><circle cx="1163.3" cy="524.0" r="5.2"/><circle cx="1170.4" cy="513.3" r="5.2"/><circle cx="1172.7" cy="519.3" r="5.2"/><circle cx="1178.7" cy="513.3" r="5.2"/><circle cx="1166.8" cy="526.4" r="5.2"/><circle cx="1176.3" cy="528.7" r="5.2"/><circle cx="1183.4" cy="535.9" r="5.2"/><circle cx="1190.5" cy="513.3" r="5.2"/><circle cx="1194.1" cy="502.7" r="5.2"/><circle cx="1195.3" cy="521.6" r="5.2"/><circle cx="1196.4" cy="543.0" r="5.2"/><circle cx="1195.3" cy="548.9" r="5.2"/><circle cx="1134.8" cy="563.1" r="5.2"/><circle cx="1138.4" cy="564.3" r="5.2"/><circle cx="1131.3" cy="571.4" r="5.2"/><circle cx="1137.2" cy="558.4" r="5.2"/><circle cx="1128.9" cy="583.3" r="5.2"/><circle cx="1136.0" cy="580.9" r="5.2"/><circle cx="1147.9" cy="582.1" r="5.2"/><circle cx="1165.6" cy="585.6" r="5.2"/><circle cx="1155.0" cy="562.0" r="5.2"/><circle cx="1140.7" cy="547.7" r="5.2"/><circle cx="1120.0" cy="488.0" r="5.2"/><circle cx="1131.0" cy="484.0" r="5.2"/><circle cx="1136.0" cy="500.0" r="5.2"/><circle cx="1125.0" cy="505.0" r="5.2"/><circle cx="1160.0" cy="515.0" r="5.2"/><circle cx="1158.0" cy="502.0" r="5.2"/><circle cx="1261.2" cy="492.0" r="5.2"/><circle cx="1293.0" cy="493.2" r="5.2"/><circle cx="1314.3" cy="496.7" r="5.2"/><circle cx="1239.9" cy="495.6" r="5.2"/><circle cx="1210.8" cy="496.7" r="5.2"/><circle cx="1225.6" cy="507.4" r="5.2"/><circle cx="1273.6" cy="508.6" r="5.2"/><circle cx="1238.7" cy="515.7" r="5.2"/><circle cx="1241.6" cy="519.3" r="5.2"/><circle cx="1239.9" cy="527.6" r="5.2"/><circle cx="1265.3" cy="516.9" r="5.2"/><circle cx="1259.4" cy="531.1" r="5.2"/><circle cx="1216.7" cy="529.9" r="5.2"/><circle cx="1200.7" cy="507.4" r="5.2"/><circle cx="1203.1" cy="514.5" r="5.2"/><circle cx="1199.6" cy="521.6" r="5.2"/><circle cx="1202.5" cy="539.4" r="5.2"/><circle cx="1216.7" cy="547.7" r="5.2"/><circle cx="1218.5" cy="559.6" r="5.2"/><circle cx="1219.7" cy="563.1" r="5.2"/><circle cx="1210.8" cy="567.3" r="5.2"/><circle cx="1237.5" cy="565.5" r="5.2"/><circle cx="1264.7" cy="568.4" r="5.2"/><circle cx="1260.0" cy="577.9" r="5.2"/><circle cx="1237.5" cy="581.5" r="5.2"/><circle cx="1279.6" cy="555.4" r="5.2"/><circle cx="1290.2" cy="577.9" r="5.2"/><circle cx="1304.4" cy="582.7" r="5.2"/><circle cx="1267.1" cy="587.4" r="5.2"/><circle cx="1120.1" cy="594.7" r="5.2"/><circle cx="1127.3" cy="587.6" r="5.2"/><circle cx="1149.8" cy="587.6" r="5.2"/><circle cx="1165.8" cy="588.1" r="5.2"/><circle cx="1141.5" cy="600.6" r="5.2"/><circle cx="1135.0" cy="609.5" r="5.2"/><circle cx="1141.5" cy="612.4" r="5.2"/><circle cx="1140.3" cy="620.7" r="5.2"/><circle cx="1156.9" cy="616.0" r="5.2"/><circle cx="1130.8" cy="630.2" r="5.2"/><circle cx="1134.4" cy="639.7" r="5.2"/><circle cx="1143.9" cy="633.8" r="5.2"/><circle cx="1151.0" cy="637.3" r="5.2"/><circle cx="1159.3" cy="636.1" r="5.2"/><circle cx="1171.1" cy="636.7" r="5.2"/><circle cx="1174.7" cy="636.1" r="5.2"/><circle cx="1139.1" cy="646.8" r="5.2"/><circle cx="1147.4" cy="644.4" r="5.2"/><circle cx="1155.7" cy="645.6" r="5.2"/><circle cx="1142.7" cy="655.1" r="5.2"/><circle cx="1151.0" cy="653.9" r="5.2"/><circle cx="1159.3" cy="653.9" r="5.2"/><circle cx="1166.4" cy="659.9" r="5.2"/><circle cx="1173.5" cy="655.1" r="5.2"/><circle cx="1181.8" cy="650.4" r="5.2"/><circle cx="1190.1" cy="661.0" r="5.2"/><circle cx="1146.2" cy="663.4" r="5.2"/><circle cx="1149.8" cy="669.3" r="5.2"/><circle cx="1155.7" cy="667.0" r="5.2"/><circle cx="1156.9" cy="677.6" r="5.2"/><circle cx="1168.7" cy="677.6" r="5.2"/><circle cx="1177.0" cy="675.3" r="5.2"/><circle cx="1183.0" cy="670.5" r="5.2"/><circle cx="1195.4" cy="673.5" r="5.2"/><circle cx="1187.7" cy="682.4" r="5.2"/><circle cx="1164.0" cy="690.7" r="5.2"/><circle cx="1164.0" cy="697.8" r="5.2"/><circle cx="1181.8" cy="690.7" r="5.2"/><circle cx="1191.3" cy="695.4" r="5.2"/><circle cx="1166.4" cy="703.7" r="5.2"/><circle cx="1177.0" cy="703.7" r="5.2"/><circle cx="1188.9" cy="702.5" r="5.2"/><circle cx="1200.7" cy="702.5" r="5.2"/><circle cx="1225.6" cy="680.0" r="5.2"/><circle cx="1224.4" cy="674.1" r="5.2"/><circle cx="1131.0" cy="625.0" r="5.2"/><circle cx="1137.0" cy="628.0" r="5.2"/><circle cx="1145.0" cy="650.0" r="5.2"/><circle cx="1163.6" cy="694.7" r="5.2"/><circle cx="1183.7" cy="701.9" r="5.2"/><circle cx="1195.6" cy="704.2" r="5.2"/><circle cx="1200.3" cy="713.7" r="5.2"/><circle cx="1201.5" cy="722.0" r="5.2"/><circle cx="1206.2" cy="730.3" r="5.2"/><circle cx="1215.7" cy="714.9" r="5.2"/><circle cx="1224.0" cy="730.9" r="5.2"/><circle cx="1234.1" cy="730.3" r="5.2"/><circle cx="1247.1" cy="707.2" r="5.2"/><circle cx="1276.7" cy="736.8" r="5.2"/><circle cx="1277.9" cy="751.0" r="5.2"/><circle cx="1264.9" cy="729.1" r="5.2"/><circle cx="1236.3" cy="584.6" r="5.2"/><circle cx="1304.4" cy="585.2" r="5.2"/><circle cx="1267.1" cy="589.9" r="5.2"/><circle cx="1267.7" cy="594.7" r="5.2"/><circle cx="1265.9" cy="607.7" r="5.2"/><circle cx="1262.4" cy="612.4" r="5.2"/><circle cx="1269.5" cy="618.4" r="5.2"/><circle cx="1289.6" cy="616.0" r="5.2"/><circle cx="1294.4" cy="614.2" r="5.2"/><circle cx="1303.9" cy="619.6" r="5.2"/><circle cx="1315.7" cy="627.9" r="5.2"/><circle cx="1318.1" cy="637.9" r="5.2"/><circle cx="1341.2" cy="601.2" r="5.2"/><circle cx="1351.3" cy="603.0" r="5.2"/><circle cx="1348.9" cy="613.6" r="5.2"/><circle cx="1353.6" cy="614.8" r="5.2"/><circle cx="1344.1" cy="636.1" r="5.2"/><circle cx="1350.1" cy="638.5" r="5.2"/><circle cx="1252.9" cy="654.5" r="5.2"/><circle cx="1249.9" cy="663.4" r="5.2"/><circle cx="1229.2" cy="680.0" r="5.2"/><circle cx="1341.8" cy="675.3" r="5.2"/><circle cx="1335.9" cy="685.9" r="5.2"/><circle cx="1329.9" cy="694.2" r="5.2"/><circle cx="1329.0" cy="700.0" r="5.2"/><circle cx="1386.5" cy="717.2" r="5.2"/><circle cx="1371.1" cy="730.2" r="5.2"/><circle cx="1380.0" cy="742.7" r="5.2"/><circle cx="1327.9" cy="736.1" r="5.2"/><circle cx="1332.6" cy="745.0" r="5.2"/><circle cx="1294.7" cy="751.0" r="5.2"/><circle cx="1353.2" cy="464.7" r="5.2"/><circle cx="1408.9" cy="474.0" r="5.2"/><circle cx="1379.3" cy="491.4" r="5.2"/><circle cx="1364.8" cy="499.1" r="5.2"/><circle cx="1352.6" cy="502.7" r="5.2"/><circle cx="1389.9" cy="501.5" r="5.2"/><circle cx="1368.6" cy="507.4" r="5.2"/><circle cx="1376.3" cy="511.0" r="5.2"/><circle cx="1387.6" cy="511.6" r="5.2"/><circle cx="1391.1" cy="513.9" r="5.2"/><circle cx="1445.0" cy="517.5" r="5.2"/><circle cx="1330.9" cy="540.6" r="5.2"/><circle cx="1344.3" cy="539.6" r="5.2"/><circle cx="1442.7" cy="547.1" r="5.2"/><circle cx="1445.6" cy="556.0" r="5.2"/><circle cx="1404.4" cy="555.4" r="5.2"/><circle cx="1369.2" cy="559.6" r="5.2"/><circle cx="1366.8" cy="567.9" r="5.2"/><circle cx="1446.2" cy="567.3" r="5.2"/><circle cx="1446.2" cy="579.7" r="5.2"/><circle cx="1332.4" cy="578.5" r="5.2"/><circle cx="1339.4" cy="423.4" r="5.2"/><circle cx="1801.6" cy="427.0" r="5.2"/><circle cx="1467.0" cy="502.6" r="5.2"/><circle cx="1472.2" cy="510.3" r="5.2"/><circle cx="1457.2" cy="518.4" r="5.2"/><circle cx="1477.7" cy="525.1" r="5.2"/><circle cx="1496.7" cy="508.5" r="5.2"/><circle cx="1509.3" cy="501.8" r="5.2"/><circle cx="1530.7" cy="501.4" r="5.2"/><circle cx="1496.9" cy="520.4" r="5.2"/><circle cx="1502.2" cy="519.2" r="5.2"/><circle cx="1518.2" cy="522.1" r="5.2"/><circle cx="1531.3" cy="530.4" r="5.2"/><circle cx="1541.0" cy="537.6" r="5.2"/><circle cx="1477.7" cy="537.6" r="5.2"/><circle cx="1485.0" cy="543.5" r="5.2"/><circle cx="1489.8" cy="547.0" r="5.2"/><circle cx="1486.2" cy="550.6" r="5.2"/><circle cx="1457.5" cy="554.1" r="5.2"/><circle cx="1498.1" cy="561.3" r="5.2"/><circle cx="1549.0" cy="553.0" r="5.2"/><circle cx="1546.1" cy="556.5" r="5.2"/><circle cx="1471.4" cy="574.3" r="5.2"/><circle cx="1483.9" cy="595.6" r="5.2"/><circle cx="1546.7" cy="587.3" r="5.2"/><circle cx="1562.1" cy="594.4" r="5.2"/><circle cx="1456.0" cy="603.0" r="5.2"/><circle cx="1467.0" cy="606.4" r="5.2"/><circle cx="1469.0" cy="625.0" r="5.2"/><circle cx="1459.2" cy="636.0" r="5.2"/><circle cx="1467.9" cy="639.2" r="5.2"/><circle cx="1441.8" cy="655.2" r="5.2"/><circle cx="1443.0" cy="670.6" r="5.2"/><circle cx="1472.0" cy="687.2" r="5.2"/><circle cx="1473.2" cy="691.9" r="5.2"/><circle cx="1441.2" cy="690.7" r="5.2"/><circle cx="1441.2" cy="707.3" r="5.2"/><circle cx="1529.5" cy="648.7" r="5.2"/><circle cx="1523.0" cy="645.7" r="5.2"/><circle cx="1543.7" cy="649.3" r="5.2"/><circle cx="1555.0" cy="650.4" r="5.2"/><circle cx="1562.1" cy="654.0" r="5.2"/><circle cx="1557.9" cy="628.5" r="5.2"/><circle cx="1566.8" cy="633.9" r="5.2"/><circle cx="1548.4" cy="603.6" r="5.2"/><circle cx="1563.3" cy="597.1" r="5.2"/><circle cx="1534.2" cy="680.1" r="5.2"/><circle cx="1540.7" cy="684.8" r="5.2"/><circle cx="1557.9" cy="671.8" r="5.2"/><circle cx="1564.4" cy="676.5" r="5.2"/><circle cx="1562.1" cy="686.0" r="5.2"/><circle cx="1557.3" cy="694.3" r="5.2"/><circle cx="1563.3" cy="702.6" r="5.2"/><circle cx="1564.4" cy="713.3" r="5.2"/><circle cx="1410.7" cy="639.5" r="5.2"/><circle cx="1420.7" cy="678.3" r="5.2"/><circle cx="1385.2" cy="693.1" r="5.2"/><circle cx="1426.7" cy="701.4" r="5.2"/><circle cx="1437.9" cy="706.7" r="5.2"/><circle cx="1437.3" cy="690.7" r="5.2"/><circle cx="1441.5" cy="722.4" r="5.2"/><circle cx="1437.9" cy="728.4" r="5.2"/><circle cx="1452.1" cy="731.9" r="5.2"/><circle cx="1442.7" cy="745.6" r="5.2"/><circle cx="1462.8" cy="765.1" r="5.2"/><circle cx="1474.7" cy="774.0" r="5.2"/><circle cx="1481.8" cy="766.9" r="5.2"/><circle cx="1439.1" cy="830.9" r="5.2"/><circle cx="1442.1" cy="828.5" r="5.2"/><circle cx="1582.8" cy="707.1" r="5.2"/><circle cx="1601.8" cy="707.1" r="5.2"/><circle cx="1606.5" cy="711.9" r="5.2"/><circle cx="1593.5" cy="714.2" r="5.2"/><circle cx="1595.9" cy="720.1" r="5.2"/><circle cx="1623.1" cy="715.4" r="5.2"/><circle cx="1620.7" cy="720.7" r="5.2"/><circle cx="1634.4" cy="709.5" r="5.2"/><circle cx="1646.8" cy="707.1" r="5.2"/><circle cx="1646.8" cy="726.7" r="5.2"/><circle cx="1562.7" cy="721.3" r="5.2"/><circle cx="1547.3" cy="735.6" r="5.2"/><circle cx="1587.0" cy="733.8" r="5.2"/><circle cx="1603.6" cy="730.2" r="5.2"/><circle cx="1632.0" cy="739.7" r="5.2"/><circle cx="1597.6" cy="747.4" r="5.2"/><circle cx="1579.3" cy="758.1" r="5.2"/><circle cx="1577.5" cy="769.3" r="5.2"/><circle cx="1562.7" cy="765.2" r="5.2"/><circle cx="1535.4" cy="766.4" r="5.2"/><circle cx="1543.7" cy="765.2" r="5.2"/><circle cx="1594.7" cy="764.0" r="5.2"/><circle cx="1595.9" cy="769.9" r="5.2"/><circle cx="1613.6" cy="765.8" r="5.2"/><circle cx="1627.9" cy="760.4" r="5.2"/><circle cx="1627.3" cy="767.6" r="5.2"/><circle cx="1620.7" cy="783.0" r="5.2"/><circle cx="1613.6" cy="786.5" r="5.2"/><circle cx="1629.6" cy="791.9" r="5.2"/><circle cx="1614.8" cy="799.6" r="5.2"/><circle cx="1616.6" cy="804.3" r="5.2"/><circle cx="1617.8" cy="814.4" r="5.2"/><circle cx="1642.7" cy="813.2" r="5.2"/><circle cx="1637.9" cy="819.7" r="5.2"/><circle cx="1625.5" cy="825.6" r="5.2"/><circle cx="1644.4" cy="824.4" r="5.2"/><circle cx="1619.0" cy="700.6" r="5.2"/><circle cx="1631.4" cy="700.0" r="5.2"/><circle cx="1644.4" cy="829.7" r="5.2"/><circle cx="1640.0" cy="829.0" r="5.2"/><circle cx="1580.7" cy="586.5" r="5.2"/><circle cx="1591.4" cy="581.2" r="5.2"/><circle cx="1579.0" cy="580.0" r="5.2"/><circle cx="1600.3" cy="591.9" r="5.2"/><circle cx="1603.9" cy="597.2" r="5.2"/><circle cx="1619.3" cy="584.7" r="5.2"/><circle cx="1632.3" cy="581.8" r="5.2"/><circle cx="1645.3" cy="589.5" r="5.2"/><circle cx="1660.7" cy="580.0" r="5.2"/><circle cx="1573.0" cy="596.0" r="5.2"/><circle cx="1580.1" cy="603.1" r="5.2"/><circle cx="1585.5" cy="604.9" r="5.2"/><circle cx="1597.3" cy="609.6" r="5.2"/><circle cx="1626.4" cy="599.0" r="5.2"/><circle cx="1631.1" cy="595.4" r="5.2"/><circle cx="1622.8" cy="605.5" r="5.2"/><circle cx="1631.1" cy="608.4" r="5.2"/><circle cx="1640.6" cy="602.5" r="5.2"/><circle cx="1651.3" cy="608.4" r="5.2"/><circle cx="1638.2" cy="615.6" r="5.2"/><circle cx="1645.3" cy="620.3" r="5.2"/><circle cx="1643.0" cy="623.9" r="5.2"/><circle cx="1657.2" cy="625.6" r="5.2"/><circle cx="1666.7" cy="612.0" r="5.2"/><circle cx="1671.4" cy="608.4" r="5.2"/><circle cx="1679.7" cy="601.3" r="5.2"/><circle cx="1683.3" cy="595.4" r="5.2"/><circle cx="1611.0" cy="619.1" r="5.2"/><circle cx="1574.2" cy="614.4" r="5.2"/><circle cx="1577.8" cy="619.1" r="5.2"/><circle cx="1571.9" cy="623.9" r="5.2"/><circle cx="1561.2" cy="628.6" r="5.2"/><circle cx="1569.5" cy="633.3" r="5.2"/><circle cx="1576.6" cy="632.1" r="5.2"/><circle cx="1590.2" cy="623.9" r="5.2"/><circle cx="1592.0" cy="633.3" r="5.2"/><circle cx="1603.9" cy="639.3" r="5.2"/><circle cx="1613.9" cy="644.0" r="5.2"/><circle cx="1577.8" cy="647.6" r="5.2"/><circle cx="1575.4" cy="655.9" r="5.2"/><circle cx="1592.0" cy="649.9" r="5.2"/><circle cx="1572.4" cy="664.7" r="5.2"/><circle cx="1607.4" cy="661.8" r="5.2"/><circle cx="1615.7" cy="658.2" r="5.2"/><circle cx="1664.3" cy="642.8" r="5.2"/><circle cx="1663.1" cy="650.5" r="5.2"/><circle cx="1669.0" cy="629.8" r="5.2"/><circle cx="1680.9" cy="636.9" r="5.2"/><circle cx="1676.1" cy="657.6" r="5.2"/><circle cx="1686.8" cy="663.6" r="5.2"/><circle cx="1561.2" cy="671.3" r="5.2"/><circle cx="1580.7" cy="677.8" r="5.2"/><circle cx="1590.8" cy="681.9" r="5.2"/><circle cx="1597.9" cy="683.1" r="5.2"/><circle cx="1593.2" cy="689.0" r="5.2"/><circle cx="1605.0" cy="689.0" r="5.2"/><circle cx="1615.7" cy="672.4" r="5.2"/><circle cx="1615.7" cy="686.7" r="5.2"/><circle cx="1622.8" cy="683.1" r="5.2"/><circle cx="1629.9" cy="684.3" r="5.2"/><circle cx="1641.8" cy="680.7" r="5.2"/><circle cx="1647.7" cy="678.4" r="5.2"/><circle cx="1643.0" cy="685.5" r="5.2"/><circle cx="1665.5" cy="685.5" r="5.2"/><circle cx="1673.8" cy="673.6" r="5.2"/><circle cx="1676.1" cy="684.3" r="5.2"/><circle cx="1658.4" cy="695.0" r="5.2"/><circle cx="1635.9" cy="697.3" r="5.2"/><circle cx="1619.3" cy="697.3" r="5.2"/><circle cx="1583.7" cy="695.0" r="5.2"/><circle cx="1565.9" cy="700.9" r="5.2"/><circle cx="1671.4" cy="704.4" r="5.2"/><circle cx="1645.3" cy="704.4" r="5.2"/><circle cx="1574.8" cy="526.9" r="5.2"/><circle cx="1595.0" cy="523.3" r="5.2"/><circle cx="1634.1" cy="523.9" r="5.2"/><circle cx="1653.0" cy="526.7" r="5.2"/><circle cx="1659.0" cy="542.5" r="5.2"/><circle cx="1587.9" cy="556.5" r="5.2"/><circle cx="1627.3" cy="556.5" r="5.2"/><circle cx="1666.1" cy="556.5" r="5.2"/><circle cx="1676.7" cy="558.9" r="5.2"/><circle cx="1686.2" cy="557.7" r="5.2"/><circle cx="1599.7" cy="567.2" r="5.2"/><circle cx="1578.4" cy="576.1" r="5.2"/><circle cx="1602.1" cy="575.5" r="5.2"/><circle cx="1616.9" cy="576.7" r="5.2"/><circle cx="1624.6" cy="570.7" r="5.2"/><circle cx="1632.3" cy="576.7" r="5.2"/><circle cx="1640.6" cy="569.6" r="5.2"/><circle cx="1652.4" cy="566.0" r="5.2"/><circle cx="1648.9" cy="571.9" r="5.2"/><circle cx="1660.7" cy="576.7" r="5.2"/><circle cx="1675.0" cy="573.7" r="5.2"/><circle cx="1711.4" cy="530.4" r="5.2"/><circle cx="1697.2" cy="539.9" r="5.2"/><circle cx="1708.4" cy="545.8" r="5.2"/><circle cx="1721.5" cy="536.9" r="5.2"/><circle cx="1719.1" cy="539.9" r="5.2"/><circle cx="1735.1" cy="526.2" r="5.2"/><circle cx="1732.7" cy="531.0" r="5.2"/><circle cx="1784.9" cy="510.6" r="5.2"/><circle cx="1787.9" cy="520.9" r="5.2"/><circle cx="1804.4" cy="531.6" r="5.2"/><circle cx="1807.4" cy="541.6" r="5.2"/><circle cx="1799.7" cy="544.6" r="5.2"/><circle cx="1779.6" cy="548.7" r="5.2"/><circle cx="1786.1" cy="555.6" r="5.2"/><circle cx="1718.5" cy="555.9" r="5.2"/><circle cx="1726.2" cy="554.1" r="5.2"/><circle cx="1731.0" cy="553.5" r="5.2"/><circle cx="1703.1" cy="574.8" r="5.2"/><circle cx="1720.3" cy="580.7" r="5.2"/><circle cx="1726.2" cy="578.4" r="5.2"/><circle cx="1739.3" cy="576.0" r="5.2"/><circle cx="1746.4" cy="578.4" r="5.2"/><circle cx="1755.9" cy="574.8" r="5.2"/><circle cx="1725.0" cy="590.2" r="5.2"/><circle cx="1717.9" cy="598.5" r="5.2"/><circle cx="1697.8" cy="592.6" r="5.2"/><circle cx="1697.8" cy="599.7" r="5.2"/><circle cx="1685.9" cy="593.8" r="5.2"/><circle cx="1682.4" cy="602.1" r="5.2"/><circle cx="1741.6" cy="599.7" r="5.2"/><circle cx="1751.1" cy="599.7" r="5.2"/><circle cx="1754.7" cy="593.8" r="5.2"/><circle cx="1731.0" cy="604.4" r="5.2"/><circle cx="1683.6" cy="599.6" r="5.2"/><circle cx="1727.4" cy="606.7" r="5.2"/><circle cx="1703.7" cy="620.9" r="5.2"/><circle cx="1695.4" cy="625.6" r="5.2"/><circle cx="1703.7" cy="629.2" r="5.2"/><circle cx="1684.7" cy="631.6" r="5.2"/><circle cx="1683.6" cy="637.5" r="5.2"/><circle cx="1697.8" cy="635.1" r="5.2"/><circle cx="1691.9" cy="642.2" r="5.2"/><circle cx="1699.0" cy="642.2" r="5.2"/><circle cx="1680.6" cy="657.6" r="5.2"/><circle cx="1680.6" cy="686.1" r="5.2"/><circle cx="1685.9" cy="612.6" r="5.2"/><circle cx="1816.5" cy="506.5" r="5.2"/><circle cx="1827.0" cy="529.2" r="5.2"/><circle cx="1836.5" cy="524.0" r="5.2"/><circle cx="1838.8" cy="551.9" r="5.2"/><circle cx="1832.8" cy="545.6" r="5.2"/><circle cx="1811.0" cy="541.2" r="5.2"/><circle cx="1402.1" cy="900.4" r="5.2"/><circle cx="1623.3" cy="696.7" r="5.2"/><circle cx="1649.2" cy="707.9" r="5.2"/><circle cx="1650.4" cy="727.1" r="5.2"/><circle cx="1660.6" cy="625.0" r="5.2"/><circle cx="1679.4" cy="631.7" r="5.2"/><circle cx="1679.4" cy="638.9" r="5.2"/><circle cx="1687.8" cy="628.9" r="5.2"/><circle cx="1698.9" cy="632.2" r="5.2"/><circle cx="1697.8" cy="638.9" r="5.2"/><circle cx="1721.1" cy="601.1" r="5.2"/><circle cx="1737.8" cy="600.0" r="5.2"/><circle cx="1150.0" cy="641.0" r="5.2"/><circle cx="1166.0" cy="641.0" r="5.2"/><circle cx="1145.0" cy="672.0" r="5.2"/><circle cx="1160.0" cy="672.0" r="5.2"/><circle cx="1172.0" cy="690.0" r="5.2"/><circle cx="1185.0" cy="696.0" r="5.2"/><circle cx="1130.0" cy="645.0" r="5.2"/><circle cx="1138.0" cy="652.0" r="5.2"/></g>
<g fill="#f1c40f" shape-rendering="crispEdges"><circle cx="1071.0" cy="404.0" r="5.2"/><circle cx="1143.1" cy="508.0" r="5.2"/><circle cx="1141.9" cy="496.7" r="5.2"/><circle cx="1176.3" cy="495.0" r="5.2"/><circle cx="1195.3" cy="493.2" r="5.2"/><circle cx="1182.2" cy="522.2" r="5.2"/><circle cx="1189.3" cy="529.9" r="5.2"/><circle cx="1133.6" cy="547.7" r="5.2"/><circle cx="1137.2" cy="554.8" r="5.2"/><circle cx="1130.1" cy="552.4" r="5.2"/><circle cx="1137.8" cy="585.6" r="5.2"/><circle cx="1223.3" cy="495.6" r="5.2"/><circle cx="1213.8" cy="508.6" r="5.2"/><circle cx="1211.4" cy="511.0" r="5.2"/><circle cx="1248.1" cy="513.3" r="5.2"/><circle cx="1265.3" cy="521.0" r="5.2"/><circle cx="1205.5" cy="524.6" r="5.2"/><circle cx="1277.2" cy="535.9" r="5.2"/><circle cx="1308.0" cy="534.1" r="5.2"/><circle cx="1242.8" cy="543.0" r="5.2"/><circle cx="1214.4" cy="566.7" r="5.2"/><circle cx="1139.1" cy="595.3" r="5.2"/><circle cx="1148.6" cy="624.9" r="5.2"/><circle cx="1149.8" cy="631.4" r="5.2"/><circle cx="1175.3" cy="628.4" r="5.2"/><circle cx="1182.4" cy="656.3" r="5.2"/><circle cx="1191.9" cy="710.8" r="5.2"/><circle cx="1207.3" cy="710.2" r="5.2"/><circle cx="1348.9" cy="624.3" r="5.2"/><circle cx="1403.1" cy="790.7" r="5.2"/><circle cx="1411.4" cy="807.3" r="5.2"/><circle cx="1399.4" cy="518.7" r="5.2"/><circle cx="1520.6" cy="542.3" r="5.2"/><circle cx="1512.3" cy="564.2" r="5.2"/><circle cx="1531.3" cy="570.7" r="5.2"/><circle cx="1534.8" cy="574.3" r="5.2"/><circle cx="1543.1" cy="568.4" r="5.2"/><circle cx="1499.3" cy="583.2" r="5.2"/><circle cx="1537.8" cy="586.7" r="5.2"/><circle cx="1524.1" cy="593.3" r="5.2"/><circle cx="1551.4" cy="593.3" r="5.2"/><circle cx="1556.1" cy="595.6" r="5.2"/><circle cx="1553.2" cy="566.0" r="5.2"/><circle cx="1523.0" cy="595.9" r="5.2"/><circle cx="1502.8" cy="610.7" r="5.2"/><circle cx="1551.4" cy="595.9" r="5.2"/><circle cx="1532.4" cy="610.7" r="5.2"/><circle cx="1539.6" cy="613.1" r="5.2"/><circle cx="1531.3" cy="623.8" r="5.2"/><circle cx="1539.6" cy="623.2" r="5.2"/><circle cx="1546.1" cy="620.2" r="5.2"/><circle cx="1564.4" cy="614.3" r="5.2"/><circle cx="1473.8" cy="630.9" r="5.2"/><circle cx="1472.6" cy="638.6" r="5.2"/><circle cx="1523.0" cy="635.0" r="5.2"/><circle cx="1524.1" cy="641.0" r="5.2"/><circle cx="1479.1" cy="655.2" r="5.2"/><circle cx="1488.0" cy="662.3" r="5.2"/><circle cx="1460.1" cy="667.0" r="5.2"/><circle cx="1469.6" cy="667.0" r="5.2"/><circle cx="1477.9" cy="678.3" r="5.2"/><circle cx="1456.0" cy="677.7" r="5.2"/><circle cx="1455.4" cy="683.6" r="5.2"/><circle cx="1440.6" cy="687.2" r="5.2"/><circle cx="1543.7" cy="664.7" r="5.2"/><circle cx="1526.5" cy="693.1" r="5.2"/><circle cx="1527.7" cy="699.0" r="5.2"/><circle cx="1499.9" cy="700.2" r="5.2"/><circle cx="1518.2" cy="714.4" r="5.2"/><circle cx="1477.9" cy="716.8" r="5.2"/><circle cx="1563.3" cy="716.8" r="5.2"/><circle cx="1443.3" cy="733.7" r="5.2"/><circle cx="1451.0" cy="740.2" r="5.2"/><circle cx="1439.1" cy="753.9" r="5.2"/><circle cx="1435.0" cy="765.7" r="5.2"/><circle cx="1465.8" cy="775.2" r="5.2"/><circle cx="1467.0" cy="779.3" r="5.2"/><circle cx="1480.6" cy="772.2" r="5.2"/><circle cx="1478.8" cy="719.5" r="5.2"/><circle cx="1477.6" cy="730.7" r="5.2"/><circle cx="1523.9" cy="735.5" r="5.2"/><circle cx="1439.1" cy="803.6" r="5.2"/><circle cx="1440.3" cy="809.6" r="5.2"/><circle cx="1428.4" cy="827.9" r="5.2"/><circle cx="1521.2" cy="714.2" r="5.2"/><circle cx="1571.0" cy="735.0" r="5.2"/><circle cx="1608.6" cy="586.5" r="5.2"/><circle cx="1560.0" cy="596.6" r="5.2"/><circle cx="1600.9" cy="622.1" r="5.2"/><circle cx="1641.8" cy="609.6" r="5.2"/><circle cx="1659.0" cy="616.7" r="5.2"/><circle cx="1679.7" cy="619.1" r="5.2"/><circle cx="1684.4" cy="619.1" r="5.2"/><circle cx="1647.7" cy="661.8" r="5.2"/><circle cx="1659.6" cy="682.5" r="5.2"/><circle cx="1635.9" cy="692.6" r="5.2"/><circle cx="1647.7" cy="692.6" r="5.2"/><circle cx="1645.3" cy="541.1" r="5.2"/><circle cx="1653.0" cy="555.3" r="5.2"/><circle cx="1748.7" cy="519.7" r="5.2"/><circle cx="1728.6" cy="567.1" r="5.2"/><circle cx="1738.1" cy="567.1" r="5.2"/><circle cx="1761.8" cy="566.5" r="5.2"/><circle cx="1733.9" cy="581.9" r="5.2"/><circle cx="1733.9" cy="589.0" r="5.2"/><circle cx="1744.0" cy="586.7" r="5.2"/><circle cx="1751.1" cy="586.7" r="5.2"/><circle cx="1748.7" cy="593.8" r="5.2"/><circle cx="1729.8" cy="597.3" r="5.2"/><circle cx="1703.7" cy="605.6" r="5.2"/><circle cx="1717.9" cy="605.6" r="5.2"/><circle cx="1748.7" cy="596.6" r="5.2"/><circle cx="1715.6" cy="610.2" r="5.2"/><circle cx="1714.4" cy="615.0" r="5.2"/><circle cx="1695.4" cy="616.1" r="5.2"/><circle cx="1687.1" cy="619.7" r="5.2"/><circle cx="1691.9" cy="622.1" r="5.2"/><circle cx="1387.8" cy="903.3" r="5.2"/><circle cx="1400.1" cy="907.2" r="5.2"/><circle cx="1698.9" cy="611.1" r="5.2"/><circle cx="1733.9" cy="593.3" r="5.2"/></g>
<g fill="#e67e22" shape-rendering="crispEdges"><circle cx="1391.7" cy="907.2" r="5.2"/><circle cx="1421.8" cy="929.6" r="5.2"/></g>
<path fill="#2ecc71" d="M1268.4,692.4 L1274.6,703.4 L1262.2,703.4Z"/>
<path fill="#2ecc71" d="M1296.1,647.4 L1302.3,658.4 L1289.9,658.4Z"/>
<path fill="#2ecc71" d="M1337.0,618.4 L1343.2,629.4 L1330.8,629.4Z"/>
<path fill="#2ecc71" d="M1549.6,651.6 L1555.8,662.6 L1543.4,662.6Z"/>
<circle cx="1144.5" cy="487.0" r="9.5" fill="#f1c40f" stroke="#111" stroke-width="2.6"/>
<circle cx="1156.7" cy="551.9" r="9.5" fill="#f1c40f" stroke="#111" stroke-width="2.6"/>
<circle cx="1182.8" cy="553.6" r="9.5" fill="#f1c40f" stroke="#111" stroke-width="2.6"/>
<circle cx="1181.6" cy="567.3" r="9.5" fill="#f1c40f" stroke="#111" stroke-width="2.6"/>
<circle cx="1164.6" cy="624.1" r="9.5" fill="#e67e22" stroke="#111" stroke-width="2.6"/>
<circle cx="1265.8" cy="719.9" r="9.5" fill="#f1c40f" stroke="#111" stroke-width="2.6"/>
<circle cx="1510.3" cy="549.6" r="9.5" fill="#f1c40f" stroke="#111" stroke-width="2.6"/>
<circle cx="1518.8" cy="580.5" r="9.5" fill="#f1c40f" stroke="#111" stroke-width="2.6"/>
<circle cx="1551.8" cy="577.3" r="9.5" fill="#f1c40f" stroke="#111" stroke-width="2.6"/>
<circle cx="1509.1" cy="596.5" r="9.5" fill="#f1c40f" stroke="#111" stroke-width="2.6"/>
<circle cx="1428.2" cy="781.7" r="9.5" fill="#f1c40f" stroke="#111" stroke-width="2.6"/>
<rect x="1157.5" y="828" width="131.5" height="137.5" fill="#fff" stroke="#555" stroke-width="1"/>
<g font-family="Liberation Sans, Arial, sans-serif" font-size="14.5" fill="#222">
<text x="1223.5" y="845" text-anchor="middle">Air Quality Index</text>
<circle cx="1170.1" cy="862.4" r="6.2" fill="#7e3535" stroke="#1a1a1a" stroke-width="1.5"/>
<text x="1184.2" y="867.5">Hazardous</text>
<circle cx="1170.1" cy="879.6" r="6.2" fill="#9b59b6" stroke="#1a1a1a" stroke-width="1.5"/>
<text x="1184.2" y="884.7">Very Unhealthy</text>
<circle cx="1170.1" cy="896.8" r="6.2" fill="#e74c3c" stroke="#1a1a1a" stroke-width="1.5"/>
<text x="1184.2" y="901.9">Unhealthy</text>
<circle cx="1170.1" cy="914.0" r="6.2" fill="#e67e22" stroke="#1a1a1a" stroke-width="1.5"/>
<text x="1184.2" y="919.1">USG</text>
<circle cx="1170.1" cy="931.2" r="6.2" fill="#f1c40f" stroke="#1a1a1a" stroke-width="1.5"/>
<text x="1184.2" y="936.3">Moderate</text>
<circle cx="1170.1" cy="948.4" r="6.2" fill="#2ecc71" stroke="#1a1a1a" stroke-width="1.5"/>
<text x="1184.2" y="953.5">Good</text>
</g>
<rect x="1317.5" y="914.2" width="103" height="51.3" fill="#fff" stroke="#666" stroke-width="1"/>
<circle cx="1329.8" cy="931.3" r="6.3" fill="none" stroke="#111" stroke-width="1.4"/>
<path d="M1329.8,941 L1337.6,953 L1322,953 Z" fill="none" stroke="#111" stroke-width="1.4" stroke-linejoin="miter"/>
<g font-family="Liberation Sans, Arial, sans-serif" font-size="14.6" fill="#222"><text x="1343.3" y="937.2">temporary</text><text x="1343.3" y="953.5">permanent</text></g>
</svg>
</body></html>
